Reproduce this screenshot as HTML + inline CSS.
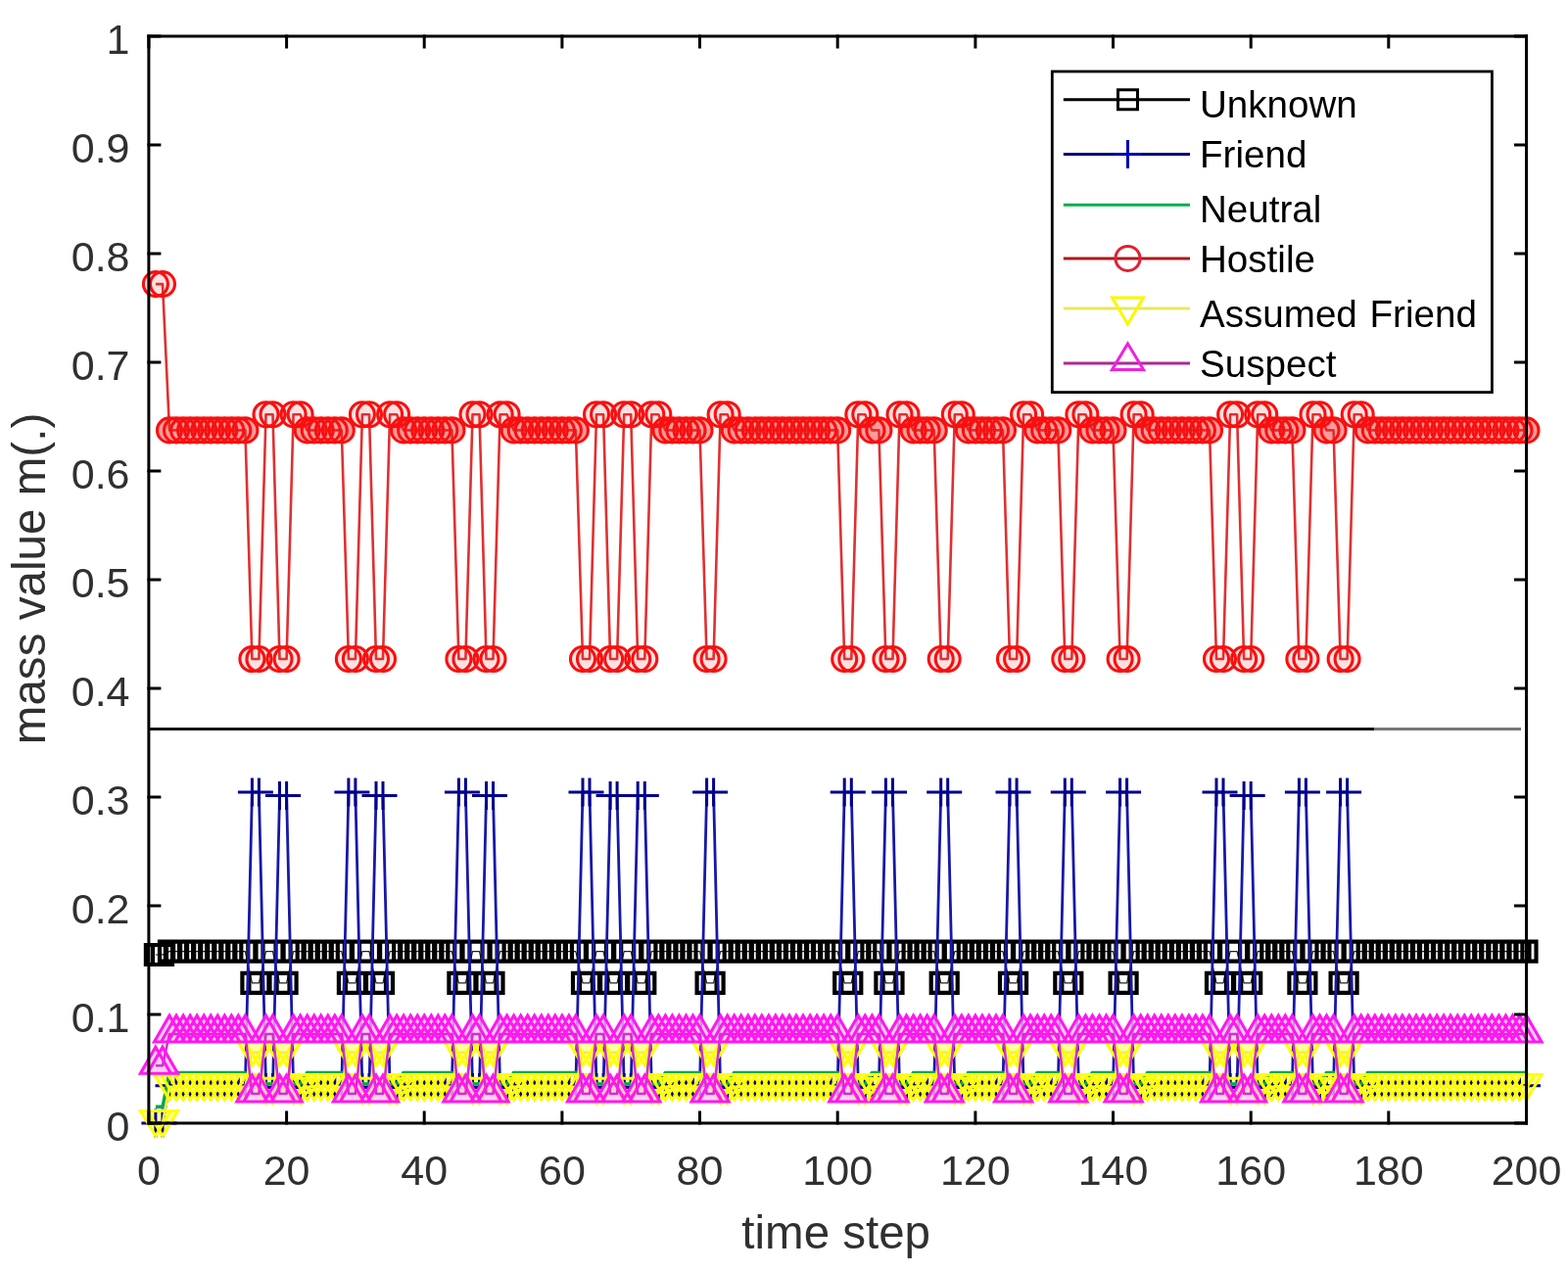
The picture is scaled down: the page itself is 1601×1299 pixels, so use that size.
<!DOCTYPE html>
<html><head><meta charset="utf-8"><title>mass value plot</title>
<style>html,body{margin:0;padding:0;background:#fff;overflow:hidden;}svg{display:block;}text{font-family:"Liberation Sans",Arial,Helvetica,sans-serif;}</style></head><body>
<svg width="1601" height="1299" viewBox="0 0 1601 1299">
<rect x="0" y="0" width="1601" height="1299" fill="#fff"/>
<path fill="#ff9a9a" stroke="none" d="M160.5,439.4a12.5,12.5 0 1,0 25.0,0a12.5,12.5 0 1,0 -25.0,0M167.5,439.4a12.5,12.5 0 1,0 25.0,0a12.5,12.5 0 1,0 -25.0,0M174.6,439.4a12.5,12.5 0 1,0 25.0,0a12.5,12.5 0 1,0 -25.0,0M181.6,439.4a12.5,12.5 0 1,0 25.0,0a12.5,12.5 0 1,0 -25.0,0M188.6,439.4a12.5,12.5 0 1,0 25.0,0a12.5,12.5 0 1,0 -25.0,0M195.7,439.4a12.5,12.5 0 1,0 25.0,0a12.5,12.5 0 1,0 -25.0,0M202.7,439.4a12.5,12.5 0 1,0 25.0,0a12.5,12.5 0 1,0 -25.0,0M209.7,439.4a12.5,12.5 0 1,0 25.0,0a12.5,12.5 0 1,0 -25.0,0M216.8,439.4a12.5,12.5 0 1,0 25.0,0a12.5,12.5 0 1,0 -25.0,0M223.8,439.4a12.5,12.5 0 1,0 25.0,0a12.5,12.5 0 1,0 -25.0,0M230.8,439.4a12.5,12.5 0 1,0 25.0,0a12.5,12.5 0 1,0 -25.0,0M237.9,439.4a12.5,12.5 0 1,0 25.0,0a12.5,12.5 0 1,0 -25.0,0M301.2,439.4a12.5,12.5 0 1,0 25.0,0a12.5,12.5 0 1,0 -25.0,0M308.2,439.4a12.5,12.5 0 1,0 25.0,0a12.5,12.5 0 1,0 -25.0,0M315.2,439.4a12.5,12.5 0 1,0 25.0,0a12.5,12.5 0 1,0 -25.0,0M322.3,439.4a12.5,12.5 0 1,0 25.0,0a12.5,12.5 0 1,0 -25.0,0M329.3,439.4a12.5,12.5 0 1,0 25.0,0a12.5,12.5 0 1,0 -25.0,0M336.3,439.4a12.5,12.5 0 1,0 25.0,0a12.5,12.5 0 1,0 -25.0,0M399.6,439.4a12.5,12.5 0 1,0 25.0,0a12.5,12.5 0 1,0 -25.0,0M406.7,439.4a12.5,12.5 0 1,0 25.0,0a12.5,12.5 0 1,0 -25.0,0M413.7,439.4a12.5,12.5 0 1,0 25.0,0a12.5,12.5 0 1,0 -25.0,0M420.7,439.4a12.5,12.5 0 1,0 25.0,0a12.5,12.5 0 1,0 -25.0,0M427.8,439.4a12.5,12.5 0 1,0 25.0,0a12.5,12.5 0 1,0 -25.0,0M434.8,439.4a12.5,12.5 0 1,0 25.0,0a12.5,12.5 0 1,0 -25.0,0M441.8,439.4a12.5,12.5 0 1,0 25.0,0a12.5,12.5 0 1,0 -25.0,0M448.9,439.4a12.5,12.5 0 1,0 25.0,0a12.5,12.5 0 1,0 -25.0,0M512.1,439.4a12.5,12.5 0 1,0 25.0,0a12.5,12.5 0 1,0 -25.0,0M519.2,439.4a12.5,12.5 0 1,0 25.0,0a12.5,12.5 0 1,0 -25.0,0M526.2,439.4a12.5,12.5 0 1,0 25.0,0a12.5,12.5 0 1,0 -25.0,0M533.2,439.4a12.5,12.5 0 1,0 25.0,0a12.5,12.5 0 1,0 -25.0,0M540.3,439.4a12.5,12.5 0 1,0 25.0,0a12.5,12.5 0 1,0 -25.0,0M547.3,439.4a12.5,12.5 0 1,0 25.0,0a12.5,12.5 0 1,0 -25.0,0M554.3,439.4a12.5,12.5 0 1,0 25.0,0a12.5,12.5 0 1,0 -25.0,0M561.4,439.4a12.5,12.5 0 1,0 25.0,0a12.5,12.5 0 1,0 -25.0,0M568.4,439.4a12.5,12.5 0 1,0 25.0,0a12.5,12.5 0 1,0 -25.0,0M575.4,439.4a12.5,12.5 0 1,0 25.0,0a12.5,12.5 0 1,0 -25.0,0M666.9,439.4a12.5,12.5 0 1,0 25.0,0a12.5,12.5 0 1,0 -25.0,0M673.9,439.4a12.5,12.5 0 1,0 25.0,0a12.5,12.5 0 1,0 -25.0,0M680.9,439.4a12.5,12.5 0 1,0 25.0,0a12.5,12.5 0 1,0 -25.0,0M688.0,439.4a12.5,12.5 0 1,0 25.0,0a12.5,12.5 0 1,0 -25.0,0M695.0,439.4a12.5,12.5 0 1,0 25.0,0a12.5,12.5 0 1,0 -25.0,0M702.0,439.4a12.5,12.5 0 1,0 25.0,0a12.5,12.5 0 1,0 -25.0,0M737.2,439.4a12.5,12.5 0 1,0 25.0,0a12.5,12.5 0 1,0 -25.0,0M744.2,439.4a12.5,12.5 0 1,0 25.0,0a12.5,12.5 0 1,0 -25.0,0M751.3,439.4a12.5,12.5 0 1,0 25.0,0a12.5,12.5 0 1,0 -25.0,0M758.3,439.4a12.5,12.5 0 1,0 25.0,0a12.5,12.5 0 1,0 -25.0,0M765.3,439.4a12.5,12.5 0 1,0 25.0,0a12.5,12.5 0 1,0 -25.0,0M772.4,439.4a12.5,12.5 0 1,0 25.0,0a12.5,12.5 0 1,0 -25.0,0M779.4,439.4a12.5,12.5 0 1,0 25.0,0a12.5,12.5 0 1,0 -25.0,0M786.4,439.4a12.5,12.5 0 1,0 25.0,0a12.5,12.5 0 1,0 -25.0,0M793.5,439.4a12.5,12.5 0 1,0 25.0,0a12.5,12.5 0 1,0 -25.0,0M800.5,439.4a12.5,12.5 0 1,0 25.0,0a12.5,12.5 0 1,0 -25.0,0M807.5,439.4a12.5,12.5 0 1,0 25.0,0a12.5,12.5 0 1,0 -25.0,0M814.6,439.4a12.5,12.5 0 1,0 25.0,0a12.5,12.5 0 1,0 -25.0,0M821.6,439.4a12.5,12.5 0 1,0 25.0,0a12.5,12.5 0 1,0 -25.0,0M828.6,439.4a12.5,12.5 0 1,0 25.0,0a12.5,12.5 0 1,0 -25.0,0M835.7,439.4a12.5,12.5 0 1,0 25.0,0a12.5,12.5 0 1,0 -25.0,0M842.7,439.4a12.5,12.5 0 1,0 25.0,0a12.5,12.5 0 1,0 -25.0,0M877.9,439.4a12.5,12.5 0 1,0 25.0,0a12.5,12.5 0 1,0 -25.0,0M884.9,439.4a12.5,12.5 0 1,0 25.0,0a12.5,12.5 0 1,0 -25.0,0M920.1,439.4a12.5,12.5 0 1,0 25.0,0a12.5,12.5 0 1,0 -25.0,0M927.1,439.4a12.5,12.5 0 1,0 25.0,0a12.5,12.5 0 1,0 -25.0,0M934.1,439.4a12.5,12.5 0 1,0 25.0,0a12.5,12.5 0 1,0 -25.0,0M941.2,439.4a12.5,12.5 0 1,0 25.0,0a12.5,12.5 0 1,0 -25.0,0M976.3,439.4a12.5,12.5 0 1,0 25.0,0a12.5,12.5 0 1,0 -25.0,0M983.4,439.4a12.5,12.5 0 1,0 25.0,0a12.5,12.5 0 1,0 -25.0,0M990.4,439.4a12.5,12.5 0 1,0 25.0,0a12.5,12.5 0 1,0 -25.0,0M997.4,439.4a12.5,12.5 0 1,0 25.0,0a12.5,12.5 0 1,0 -25.0,0M1004.5,439.4a12.5,12.5 0 1,0 25.0,0a12.5,12.5 0 1,0 -25.0,0M1011.5,439.4a12.5,12.5 0 1,0 25.0,0a12.5,12.5 0 1,0 -25.0,0M1046.7,439.4a12.5,12.5 0 1,0 25.0,0a12.5,12.5 0 1,0 -25.0,0M1053.7,439.4a12.5,12.5 0 1,0 25.0,0a12.5,12.5 0 1,0 -25.0,0M1060.7,439.4a12.5,12.5 0 1,0 25.0,0a12.5,12.5 0 1,0 -25.0,0M1067.8,439.4a12.5,12.5 0 1,0 25.0,0a12.5,12.5 0 1,0 -25.0,0M1102.9,439.4a12.5,12.5 0 1,0 25.0,0a12.5,12.5 0 1,0 -25.0,0M1110.0,439.4a12.5,12.5 0 1,0 25.0,0a12.5,12.5 0 1,0 -25.0,0M1117.0,439.4a12.5,12.5 0 1,0 25.0,0a12.5,12.5 0 1,0 -25.0,0M1124.0,439.4a12.5,12.5 0 1,0 25.0,0a12.5,12.5 0 1,0 -25.0,0M1159.2,439.4a12.5,12.5 0 1,0 25.0,0a12.5,12.5 0 1,0 -25.0,0M1166.2,439.4a12.5,12.5 0 1,0 25.0,0a12.5,12.5 0 1,0 -25.0,0M1173.3,439.4a12.5,12.5 0 1,0 25.0,0a12.5,12.5 0 1,0 -25.0,0M1180.3,439.4a12.5,12.5 0 1,0 25.0,0a12.5,12.5 0 1,0 -25.0,0M1187.3,439.4a12.5,12.5 0 1,0 25.0,0a12.5,12.5 0 1,0 -25.0,0M1194.4,439.4a12.5,12.5 0 1,0 25.0,0a12.5,12.5 0 1,0 -25.0,0M1201.4,439.4a12.5,12.5 0 1,0 25.0,0a12.5,12.5 0 1,0 -25.0,0M1208.4,439.4a12.5,12.5 0 1,0 25.0,0a12.5,12.5 0 1,0 -25.0,0M1215.4,439.4a12.5,12.5 0 1,0 25.0,0a12.5,12.5 0 1,0 -25.0,0M1222.5,439.4a12.5,12.5 0 1,0 25.0,0a12.5,12.5 0 1,0 -25.0,0M1285.8,439.4a12.5,12.5 0 1,0 25.0,0a12.5,12.5 0 1,0 -25.0,0M1292.8,439.4a12.5,12.5 0 1,0 25.0,0a12.5,12.5 0 1,0 -25.0,0M1299.8,439.4a12.5,12.5 0 1,0 25.0,0a12.5,12.5 0 1,0 -25.0,0M1306.9,439.4a12.5,12.5 0 1,0 25.0,0a12.5,12.5 0 1,0 -25.0,0M1342.0,439.4a12.5,12.5 0 1,0 25.0,0a12.5,12.5 0 1,0 -25.0,0M1349.1,439.4a12.5,12.5 0 1,0 25.0,0a12.5,12.5 0 1,0 -25.0,0M1384.2,439.4a12.5,12.5 0 1,0 25.0,0a12.5,12.5 0 1,0 -25.0,0M1391.3,439.4a12.5,12.5 0 1,0 25.0,0a12.5,12.5 0 1,0 -25.0,0M1398.3,439.4a12.5,12.5 0 1,0 25.0,0a12.5,12.5 0 1,0 -25.0,0M1405.3,439.4a12.5,12.5 0 1,0 25.0,0a12.5,12.5 0 1,0 -25.0,0M1412.4,439.4a12.5,12.5 0 1,0 25.0,0a12.5,12.5 0 1,0 -25.0,0M1419.4,439.4a12.5,12.5 0 1,0 25.0,0a12.5,12.5 0 1,0 -25.0,0M1426.4,439.4a12.5,12.5 0 1,0 25.0,0a12.5,12.5 0 1,0 -25.0,0M1433.5,439.4a12.5,12.5 0 1,0 25.0,0a12.5,12.5 0 1,0 -25.0,0M1440.5,439.4a12.5,12.5 0 1,0 25.0,0a12.5,12.5 0 1,0 -25.0,0M1447.5,439.4a12.5,12.5 0 1,0 25.0,0a12.5,12.5 0 1,0 -25.0,0M1454.6,439.4a12.5,12.5 0 1,0 25.0,0a12.5,12.5 0 1,0 -25.0,0M1461.6,439.4a12.5,12.5 0 1,0 25.0,0a12.5,12.5 0 1,0 -25.0,0M1468.6,439.4a12.5,12.5 0 1,0 25.0,0a12.5,12.5 0 1,0 -25.0,0M1475.7,439.4a12.5,12.5 0 1,0 25.0,0a12.5,12.5 0 1,0 -25.0,0M1482.7,439.4a12.5,12.5 0 1,0 25.0,0a12.5,12.5 0 1,0 -25.0,0M1489.7,439.4a12.5,12.5 0 1,0 25.0,0a12.5,12.5 0 1,0 -25.0,0M1496.8,439.4a12.5,12.5 0 1,0 25.0,0a12.5,12.5 0 1,0 -25.0,0M1503.8,439.4a12.5,12.5 0 1,0 25.0,0a12.5,12.5 0 1,0 -25.0,0M1510.8,439.4a12.5,12.5 0 1,0 25.0,0a12.5,12.5 0 1,0 -25.0,0M1517.9,439.4a12.5,12.5 0 1,0 25.0,0a12.5,12.5 0 1,0 -25.0,0M1524.9,439.4a12.5,12.5 0 1,0 25.0,0a12.5,12.5 0 1,0 -25.0,0M1531.9,439.4a12.5,12.5 0 1,0 25.0,0a12.5,12.5 0 1,0 -25.0,0M1539.0,439.4a12.5,12.5 0 1,0 25.0,0a12.5,12.5 0 1,0 -25.0,0M1546.0,439.4a12.5,12.5 0 1,0 25.0,0a12.5,12.5 0 1,0 -25.0,0"/>
<path fill="#ffe0e0" stroke="none" d="M146.4,290.1a12.5,12.5 0 1,0 25.0,0a12.5,12.5 0 1,0 -25.0,0M153.5,290.1a12.5,12.5 0 1,0 25.0,0a12.5,12.5 0 1,0 -25.0,0M244.9,673.0a12.5,12.5 0 1,0 25.0,0a12.5,12.5 0 1,0 -25.0,0M251.9,673.0a12.5,12.5 0 1,0 25.0,0a12.5,12.5 0 1,0 -25.0,0M259.0,423.3a12.5,12.5 0 1,0 25.0,0a12.5,12.5 0 1,0 -25.0,0M266.0,423.3a12.5,12.5 0 1,0 25.0,0a12.5,12.5 0 1,0 -25.0,0M273.0,673.0a12.5,12.5 0 1,0 25.0,0a12.5,12.5 0 1,0 -25.0,0M280.1,673.0a12.5,12.5 0 1,0 25.0,0a12.5,12.5 0 1,0 -25.0,0M287.1,423.3a12.5,12.5 0 1,0 25.0,0a12.5,12.5 0 1,0 -25.0,0M294.1,423.3a12.5,12.5 0 1,0 25.0,0a12.5,12.5 0 1,0 -25.0,0M343.4,673.0a12.5,12.5 0 1,0 25.0,0a12.5,12.5 0 1,0 -25.0,0M350.4,673.0a12.5,12.5 0 1,0 25.0,0a12.5,12.5 0 1,0 -25.0,0M357.4,423.3a12.5,12.5 0 1,0 25.0,0a12.5,12.5 0 1,0 -25.0,0M364.5,423.3a12.5,12.5 0 1,0 25.0,0a12.5,12.5 0 1,0 -25.0,0M371.5,673.0a12.5,12.5 0 1,0 25.0,0a12.5,12.5 0 1,0 -25.0,0M378.5,673.0a12.5,12.5 0 1,0 25.0,0a12.5,12.5 0 1,0 -25.0,0M385.6,423.3a12.5,12.5 0 1,0 25.0,0a12.5,12.5 0 1,0 -25.0,0M392.6,423.3a12.5,12.5 0 1,0 25.0,0a12.5,12.5 0 1,0 -25.0,0M455.9,673.0a12.5,12.5 0 1,0 25.0,0a12.5,12.5 0 1,0 -25.0,0M462.9,673.0a12.5,12.5 0 1,0 25.0,0a12.5,12.5 0 1,0 -25.0,0M470.0,423.3a12.5,12.5 0 1,0 25.0,0a12.5,12.5 0 1,0 -25.0,0M477.0,423.3a12.5,12.5 0 1,0 25.0,0a12.5,12.5 0 1,0 -25.0,0M484.0,673.0a12.5,12.5 0 1,0 25.0,0a12.5,12.5 0 1,0 -25.0,0M491.0,673.0a12.5,12.5 0 1,0 25.0,0a12.5,12.5 0 1,0 -25.0,0M498.1,423.3a12.5,12.5 0 1,0 25.0,0a12.5,12.5 0 1,0 -25.0,0M505.1,423.3a12.5,12.5 0 1,0 25.0,0a12.5,12.5 0 1,0 -25.0,0M582.5,673.0a12.5,12.5 0 1,0 25.0,0a12.5,12.5 0 1,0 -25.0,0M589.5,673.0a12.5,12.5 0 1,0 25.0,0a12.5,12.5 0 1,0 -25.0,0M596.5,423.3a12.5,12.5 0 1,0 25.0,0a12.5,12.5 0 1,0 -25.0,0M603.6,423.3a12.5,12.5 0 1,0 25.0,0a12.5,12.5 0 1,0 -25.0,0M610.6,673.0a12.5,12.5 0 1,0 25.0,0a12.5,12.5 0 1,0 -25.0,0M617.6,673.0a12.5,12.5 0 1,0 25.0,0a12.5,12.5 0 1,0 -25.0,0M624.7,423.3a12.5,12.5 0 1,0 25.0,0a12.5,12.5 0 1,0 -25.0,0M631.7,423.3a12.5,12.5 0 1,0 25.0,0a12.5,12.5 0 1,0 -25.0,0M638.7,673.0a12.5,12.5 0 1,0 25.0,0a12.5,12.5 0 1,0 -25.0,0M645.8,673.0a12.5,12.5 0 1,0 25.0,0a12.5,12.5 0 1,0 -25.0,0M652.8,423.3a12.5,12.5 0 1,0 25.0,0a12.5,12.5 0 1,0 -25.0,0M659.8,423.3a12.5,12.5 0 1,0 25.0,0a12.5,12.5 0 1,0 -25.0,0M709.1,673.0a12.5,12.5 0 1,0 25.0,0a12.5,12.5 0 1,0 -25.0,0M716.1,673.0a12.5,12.5 0 1,0 25.0,0a12.5,12.5 0 1,0 -25.0,0M723.1,423.3a12.5,12.5 0 1,0 25.0,0a12.5,12.5 0 1,0 -25.0,0M730.2,423.3a12.5,12.5 0 1,0 25.0,0a12.5,12.5 0 1,0 -25.0,0M849.7,673.0a12.5,12.5 0 1,0 25.0,0a12.5,12.5 0 1,0 -25.0,0M856.8,673.0a12.5,12.5 0 1,0 25.0,0a12.5,12.5 0 1,0 -25.0,0M863.8,423.3a12.5,12.5 0 1,0 25.0,0a12.5,12.5 0 1,0 -25.0,0M870.8,423.3a12.5,12.5 0 1,0 25.0,0a12.5,12.5 0 1,0 -25.0,0M891.9,673.0a12.5,12.5 0 1,0 25.0,0a12.5,12.5 0 1,0 -25.0,0M899.0,673.0a12.5,12.5 0 1,0 25.0,0a12.5,12.5 0 1,0 -25.0,0M906.0,423.3a12.5,12.5 0 1,0 25.0,0a12.5,12.5 0 1,0 -25.0,0M913.0,423.3a12.5,12.5 0 1,0 25.0,0a12.5,12.5 0 1,0 -25.0,0M948.2,673.0a12.5,12.5 0 1,0 25.0,0a12.5,12.5 0 1,0 -25.0,0M955.2,673.0a12.5,12.5 0 1,0 25.0,0a12.5,12.5 0 1,0 -25.0,0M962.3,423.3a12.5,12.5 0 1,0 25.0,0a12.5,12.5 0 1,0 -25.0,0M969.3,423.3a12.5,12.5 0 1,0 25.0,0a12.5,12.5 0 1,0 -25.0,0M1018.5,673.0a12.5,12.5 0 1,0 25.0,0a12.5,12.5 0 1,0 -25.0,0M1025.6,673.0a12.5,12.5 0 1,0 25.0,0a12.5,12.5 0 1,0 -25.0,0M1032.6,423.3a12.5,12.5 0 1,0 25.0,0a12.5,12.5 0 1,0 -25.0,0M1039.6,423.3a12.5,12.5 0 1,0 25.0,0a12.5,12.5 0 1,0 -25.0,0M1074.8,673.0a12.5,12.5 0 1,0 25.0,0a12.5,12.5 0 1,0 -25.0,0M1081.8,673.0a12.5,12.5 0 1,0 25.0,0a12.5,12.5 0 1,0 -25.0,0M1088.9,423.3a12.5,12.5 0 1,0 25.0,0a12.5,12.5 0 1,0 -25.0,0M1095.9,423.3a12.5,12.5 0 1,0 25.0,0a12.5,12.5 0 1,0 -25.0,0M1131.1,673.0a12.5,12.5 0 1,0 25.0,0a12.5,12.5 0 1,0 -25.0,0M1138.1,673.0a12.5,12.5 0 1,0 25.0,0a12.5,12.5 0 1,0 -25.0,0M1145.1,423.3a12.5,12.5 0 1,0 25.0,0a12.5,12.5 0 1,0 -25.0,0M1152.2,423.3a12.5,12.5 0 1,0 25.0,0a12.5,12.5 0 1,0 -25.0,0M1229.5,673.0a12.5,12.5 0 1,0 25.0,0a12.5,12.5 0 1,0 -25.0,0M1236.5,673.0a12.5,12.5 0 1,0 25.0,0a12.5,12.5 0 1,0 -25.0,0M1243.6,423.3a12.5,12.5 0 1,0 25.0,0a12.5,12.5 0 1,0 -25.0,0M1250.6,423.3a12.5,12.5 0 1,0 25.0,0a12.5,12.5 0 1,0 -25.0,0M1257.6,673.0a12.5,12.5 0 1,0 25.0,0a12.5,12.5 0 1,0 -25.0,0M1264.7,673.0a12.5,12.5 0 1,0 25.0,0a12.5,12.5 0 1,0 -25.0,0M1271.7,423.3a12.5,12.5 0 1,0 25.0,0a12.5,12.5 0 1,0 -25.0,0M1278.7,423.3a12.5,12.5 0 1,0 25.0,0a12.5,12.5 0 1,0 -25.0,0M1313.9,673.0a12.5,12.5 0 1,0 25.0,0a12.5,12.5 0 1,0 -25.0,0M1320.9,673.0a12.5,12.5 0 1,0 25.0,0a12.5,12.5 0 1,0 -25.0,0M1328.0,423.3a12.5,12.5 0 1,0 25.0,0a12.5,12.5 0 1,0 -25.0,0M1335.0,423.3a12.5,12.5 0 1,0 25.0,0a12.5,12.5 0 1,0 -25.0,0M1356.1,673.0a12.5,12.5 0 1,0 25.0,0a12.5,12.5 0 1,0 -25.0,0M1363.1,673.0a12.5,12.5 0 1,0 25.0,0a12.5,12.5 0 1,0 -25.0,0M1370.2,423.3a12.5,12.5 0 1,0 25.0,0a12.5,12.5 0 1,0 -25.0,0M1377.2,423.3a12.5,12.5 0 1,0 25.0,0a12.5,12.5 0 1,0 -25.0,0"/>
<path fill="#ffffa0" stroke="none" d="M143.4,1134.5L174.4,1134.5L158.9,1160.0zM150.5,1134.5L181.5,1134.5L166.0,1160.0zM157.5,1097.5L188.5,1097.5L173.0,1123.0zM164.5,1097.5L195.5,1097.5L180.0,1123.0zM171.6,1097.5L202.6,1097.5L187.1,1123.0zM178.6,1097.5L209.6,1097.5L194.1,1123.0zM185.6,1097.5L216.6,1097.5L201.1,1123.0zM192.7,1097.5L223.7,1097.5L208.2,1123.0zM199.7,1097.5L230.7,1097.5L215.2,1123.0zM206.7,1097.5L237.7,1097.5L222.2,1123.0zM213.8,1097.5L244.8,1097.5L229.3,1123.0zM220.8,1097.5L251.8,1097.5L236.3,1123.0zM227.8,1097.5L258.8,1097.5L243.3,1123.0zM234.9,1097.5L265.9,1097.5L250.4,1123.0zM241.9,1062.3L272.9,1062.3L257.4,1087.8zM248.9,1062.3L279.9,1062.3L264.4,1087.8zM256.0,1101.2L287.0,1101.2L271.5,1126.7zM263.0,1101.2L294.0,1101.2L278.5,1126.7zM270.0,1062.3L301.0,1062.3L285.5,1087.8zM277.1,1062.3L308.1,1062.3L292.6,1087.8zM284.1,1101.2L315.1,1101.2L299.6,1126.7zM291.1,1101.2L322.1,1101.2L306.6,1126.7zM298.2,1097.5L329.2,1097.5L313.7,1123.0zM305.2,1097.5L336.2,1097.5L320.7,1123.0zM312.2,1097.5L343.2,1097.5L327.7,1123.0zM319.3,1097.5L350.3,1097.5L334.8,1123.0zM326.3,1097.5L357.3,1097.5L341.8,1123.0zM333.3,1097.5L364.3,1097.5L348.8,1123.0zM340.4,1062.3L371.4,1062.3L355.9,1087.8zM347.4,1062.3L378.4,1062.3L362.9,1087.8zM354.4,1101.2L385.4,1101.2L369.9,1126.7zM361.5,1101.2L392.5,1101.2L377.0,1126.7zM368.5,1062.3L399.5,1062.3L384.0,1087.8zM375.5,1062.3L406.5,1062.3L391.0,1087.8zM382.6,1101.2L413.6,1101.2L398.1,1126.7zM389.6,1101.2L420.6,1101.2L405.1,1126.7zM396.6,1097.5L427.6,1097.5L412.1,1123.0zM403.7,1097.5L434.7,1097.5L419.2,1123.0zM410.7,1097.5L441.7,1097.5L426.2,1123.0zM417.7,1097.5L448.7,1097.5L433.2,1123.0zM424.8,1097.5L455.8,1097.5L440.3,1123.0zM431.8,1097.5L462.8,1097.5L447.3,1123.0zM438.8,1097.5L469.8,1097.5L454.3,1123.0zM445.9,1097.5L476.9,1097.5L461.4,1123.0zM452.9,1062.3L483.9,1062.3L468.4,1087.8zM459.9,1062.3L490.9,1062.3L475.4,1087.8zM467.0,1101.2L498.0,1101.2L482.5,1126.7zM474.0,1101.2L505.0,1101.2L489.5,1126.7zM481.0,1062.3L512.0,1062.3L496.5,1087.8zM488.0,1062.3L519.0,1062.3L503.5,1087.8zM495.1,1101.2L526.1,1101.2L510.6,1126.7zM502.1,1101.2L533.1,1101.2L517.6,1126.7zM509.1,1097.5L540.1,1097.5L524.6,1123.0zM516.2,1097.5L547.2,1097.5L531.7,1123.0zM523.2,1097.5L554.2,1097.5L538.7,1123.0zM530.2,1097.5L561.2,1097.5L545.7,1123.0zM537.3,1097.5L568.3,1097.5L552.8,1123.0zM544.3,1097.5L575.3,1097.5L559.8,1123.0zM551.3,1097.5L582.3,1097.5L566.8,1123.0zM558.4,1097.5L589.4,1097.5L573.9,1123.0zM565.4,1097.5L596.4,1097.5L580.9,1123.0zM572.4,1097.5L603.4,1097.5L587.9,1123.0zM579.5,1062.3L610.5,1062.3L595.0,1087.8zM586.5,1062.3L617.5,1062.3L602.0,1087.8zM593.5,1101.2L624.5,1101.2L609.0,1126.7zM600.6,1101.2L631.6,1101.2L616.1,1126.7zM607.6,1062.3L638.6,1062.3L623.1,1087.8zM614.6,1062.3L645.6,1062.3L630.1,1087.8zM621.7,1101.2L652.7,1101.2L637.2,1126.7zM628.7,1101.2L659.7,1101.2L644.2,1126.7zM635.7,1062.3L666.7,1062.3L651.2,1087.8zM642.8,1062.3L673.8,1062.3L658.3,1087.8zM649.8,1101.2L680.8,1101.2L665.3,1126.7zM656.8,1101.2L687.8,1101.2L672.3,1126.7zM663.9,1097.5L694.9,1097.5L679.4,1123.0zM670.9,1097.5L701.9,1097.5L686.4,1123.0zM677.9,1097.5L708.9,1097.5L693.4,1123.0zM685.0,1097.5L716.0,1097.5L700.5,1123.0zM692.0,1097.5L723.0,1097.5L707.5,1123.0zM699.0,1097.5L730.0,1097.5L714.5,1123.0zM706.1,1062.3L737.1,1062.3L721.6,1087.8zM713.1,1062.3L744.1,1062.3L728.6,1087.8zM720.1,1101.2L751.1,1101.2L735.6,1126.7zM727.2,1101.2L758.2,1101.2L742.7,1126.7zM734.2,1097.5L765.2,1097.5L749.7,1123.0zM741.2,1097.5L772.2,1097.5L756.7,1123.0zM748.3,1097.5L779.3,1097.5L763.8,1123.0zM755.3,1097.5L786.3,1097.5L770.8,1123.0zM762.3,1097.5L793.3,1097.5L777.8,1123.0zM769.4,1097.5L800.4,1097.5L784.9,1123.0zM776.4,1097.5L807.4,1097.5L791.9,1123.0zM783.4,1097.5L814.4,1097.5L798.9,1123.0zM790.5,1097.5L821.5,1097.5L806.0,1123.0zM797.5,1097.5L828.5,1097.5L813.0,1123.0zM804.5,1097.5L835.5,1097.5L820.0,1123.0zM811.6,1097.5L842.6,1097.5L827.1,1123.0zM818.6,1097.5L849.6,1097.5L834.1,1123.0zM825.6,1097.5L856.6,1097.5L841.1,1123.0zM832.7,1097.5L863.7,1097.5L848.2,1123.0zM839.7,1097.5L870.7,1097.5L855.2,1123.0zM846.7,1062.3L877.7,1062.3L862.2,1087.8zM853.8,1062.3L884.8,1062.3L869.3,1087.8zM860.8,1101.2L891.8,1101.2L876.3,1126.7zM867.8,1101.2L898.8,1101.2L883.3,1126.7zM874.9,1097.5L905.9,1097.5L890.4,1123.0zM881.9,1097.5L912.9,1097.5L897.4,1123.0zM888.9,1062.3L919.9,1062.3L904.4,1087.8zM896.0,1062.3L927.0,1062.3L911.5,1087.8zM903.0,1101.2L934.0,1101.2L918.5,1126.7zM910.0,1101.2L941.0,1101.2L925.5,1126.7zM917.1,1097.5L948.1,1097.5L932.6,1123.0zM924.1,1097.5L955.1,1097.5L939.6,1123.0zM931.1,1097.5L962.1,1097.5L946.6,1123.0zM938.2,1097.5L969.2,1097.5L953.7,1123.0zM945.2,1062.3L976.2,1062.3L960.7,1087.8zM952.2,1062.3L983.2,1062.3L967.7,1087.8zM959.3,1101.2L990.3,1101.2L974.8,1126.7zM966.3,1101.2L997.3,1101.2L981.8,1126.7zM973.3,1097.5L1004.3,1097.5L988.8,1123.0zM980.4,1097.5L1011.4,1097.5L995.9,1123.0zM987.4,1097.5L1018.4,1097.5L1002.9,1123.0zM994.4,1097.5L1025.4,1097.5L1009.9,1123.0zM1001.5,1097.5L1032.5,1097.5L1017.0,1123.0zM1008.5,1097.5L1039.5,1097.5L1024.0,1123.0zM1015.5,1062.3L1046.5,1062.3L1031.0,1087.8zM1022.6,1062.3L1053.6,1062.3L1038.1,1087.8zM1029.6,1101.2L1060.6,1101.2L1045.1,1126.7zM1036.6,1101.2L1067.6,1101.2L1052.1,1126.7zM1043.7,1097.5L1074.7,1097.5L1059.2,1123.0zM1050.7,1097.5L1081.7,1097.5L1066.2,1123.0zM1057.7,1097.5L1088.7,1097.5L1073.2,1123.0zM1064.8,1097.5L1095.8,1097.5L1080.3,1123.0zM1071.8,1062.3L1102.8,1062.3L1087.3,1087.8zM1078.8,1062.3L1109.8,1062.3L1094.3,1087.8zM1085.9,1101.2L1116.9,1101.2L1101.4,1126.7zM1092.9,1101.2L1123.9,1101.2L1108.4,1126.7zM1099.9,1097.5L1130.9,1097.5L1115.4,1123.0zM1107.0,1097.5L1138.0,1097.5L1122.5,1123.0zM1114.0,1097.5L1145.0,1097.5L1129.5,1123.0zM1121.0,1097.5L1152.0,1097.5L1136.5,1123.0zM1128.1,1062.3L1159.1,1062.3L1143.6,1087.8zM1135.1,1062.3L1166.1,1062.3L1150.6,1087.8zM1142.1,1101.2L1173.1,1101.2L1157.6,1126.7zM1149.2,1101.2L1180.2,1101.2L1164.7,1126.7zM1156.2,1097.5L1187.2,1097.5L1171.7,1123.0zM1163.2,1097.5L1194.2,1097.5L1178.7,1123.0zM1170.3,1097.5L1201.3,1097.5L1185.8,1123.0zM1177.3,1097.5L1208.3,1097.5L1192.8,1123.0zM1184.3,1097.5L1215.3,1097.5L1199.8,1123.0zM1191.4,1097.5L1222.4,1097.5L1206.9,1123.0zM1198.4,1097.5L1229.4,1097.5L1213.9,1123.0zM1205.4,1097.5L1236.4,1097.5L1220.9,1123.0zM1212.4,1097.5L1243.4,1097.5L1227.9,1123.0zM1219.5,1097.5L1250.5,1097.5L1235.0,1123.0zM1226.5,1062.3L1257.5,1062.3L1242.0,1087.8zM1233.5,1062.3L1264.5,1062.3L1249.0,1087.8zM1240.6,1101.2L1271.6,1101.2L1256.1,1126.7zM1247.6,1101.2L1278.6,1101.2L1263.1,1126.7zM1254.6,1062.3L1285.6,1062.3L1270.1,1087.8zM1261.7,1062.3L1292.7,1062.3L1277.2,1087.8zM1268.7,1101.2L1299.7,1101.2L1284.2,1126.7zM1275.7,1101.2L1306.7,1101.2L1291.2,1126.7zM1282.8,1097.5L1313.8,1097.5L1298.3,1123.0zM1289.8,1097.5L1320.8,1097.5L1305.3,1123.0zM1296.8,1097.5L1327.8,1097.5L1312.3,1123.0zM1303.9,1097.5L1334.9,1097.5L1319.4,1123.0zM1310.9,1062.3L1341.9,1062.3L1326.4,1087.8zM1317.9,1062.3L1348.9,1062.3L1333.4,1087.8zM1325.0,1101.2L1356.0,1101.2L1340.5,1126.7zM1332.0,1101.2L1363.0,1101.2L1347.5,1126.7zM1339.0,1097.5L1370.0,1097.5L1354.5,1123.0zM1346.1,1097.5L1377.1,1097.5L1361.6,1123.0zM1353.1,1062.3L1384.1,1062.3L1368.6,1087.8zM1360.1,1062.3L1391.1,1062.3L1375.6,1087.8zM1367.2,1101.2L1398.2,1101.2L1382.7,1126.7zM1374.2,1101.2L1405.2,1101.2L1389.7,1126.7zM1381.2,1097.5L1412.2,1097.5L1396.7,1123.0zM1388.3,1097.5L1419.3,1097.5L1403.8,1123.0zM1395.3,1097.5L1426.3,1097.5L1410.8,1123.0zM1402.3,1097.5L1433.3,1097.5L1417.8,1123.0zM1409.4,1097.5L1440.4,1097.5L1424.9,1123.0zM1416.4,1097.5L1447.4,1097.5L1431.9,1123.0zM1423.4,1097.5L1454.4,1097.5L1438.9,1123.0zM1430.5,1097.5L1461.5,1097.5L1446.0,1123.0zM1437.5,1097.5L1468.5,1097.5L1453.0,1123.0zM1444.5,1097.5L1475.5,1097.5L1460.0,1123.0zM1451.6,1097.5L1482.6,1097.5L1467.1,1123.0zM1458.6,1097.5L1489.6,1097.5L1474.1,1123.0zM1465.6,1097.5L1496.6,1097.5L1481.1,1123.0zM1472.7,1097.5L1503.7,1097.5L1488.2,1123.0zM1479.7,1097.5L1510.7,1097.5L1495.2,1123.0zM1486.7,1097.5L1517.7,1097.5L1502.2,1123.0zM1493.8,1097.5L1524.8,1097.5L1509.3,1123.0zM1500.8,1097.5L1531.8,1097.5L1516.3,1123.0zM1507.8,1097.5L1538.8,1097.5L1523.3,1123.0zM1514.9,1097.5L1545.9,1097.5L1530.4,1123.0zM1521.9,1097.5L1552.9,1097.5L1537.4,1123.0zM1528.9,1097.5L1559.9,1097.5L1544.4,1123.0zM1536.0,1097.5L1567.0,1097.5L1551.5,1123.0zM1543.0,1097.5L1574.0,1097.5L1558.5,1123.0z"/>
<polyline fill="none" stroke="#222" stroke-width="1.2" stroke-linejoin="round" points="158.9,975.0 166.0,975.0 173.0,971.6 180.0,971.6 187.1,971.6 194.1,971.6 201.1,971.6 208.2,971.6 215.2,971.6 222.2,971.6 229.3,971.6 236.3,971.6 243.3,971.6 250.4,971.6 257.4,1003.8 264.4,1003.8 271.5,971.6 278.5,971.6 285.5,1003.8 292.6,1003.8 299.6,971.6 306.6,971.6 313.7,971.6 320.7,971.6 327.7,971.6 334.8,971.6 341.8,971.6 348.8,971.6 355.9,1003.8 362.9,1003.8 369.9,971.6 377.0,971.6 384.0,1003.8 391.0,1003.8 398.1,971.6 405.1,971.6 412.1,971.6 419.2,971.6 426.2,971.6 433.2,971.6 440.3,971.6 447.3,971.6 454.3,971.6 461.4,971.6 468.4,1003.8 475.4,1003.8 482.5,971.6 489.5,971.6 496.5,1003.8 503.5,1003.8 510.6,971.6 517.6,971.6 524.6,971.6 531.7,971.6 538.7,971.6 545.7,971.6 552.8,971.6 559.8,971.6 566.8,971.6 573.9,971.6 580.9,971.6 587.9,971.6 595.0,1003.8 602.0,1003.8 609.0,971.6 616.1,971.6 623.1,1003.8 630.1,1003.8 637.2,971.6 644.2,971.6 651.2,1003.8 658.3,1003.8 665.3,971.6 672.3,971.6 679.4,971.6 686.4,971.6 693.4,971.6 700.5,971.6 707.5,971.6 714.5,971.6 721.6,1003.8 728.6,1003.8 735.6,971.6 742.7,971.6 749.7,971.6 756.7,971.6 763.8,971.6 770.8,971.6 777.8,971.6 784.9,971.6 791.9,971.6 798.9,971.6 806.0,971.6 813.0,971.6 820.0,971.6 827.1,971.6 834.1,971.6 841.1,971.6 848.2,971.6 855.2,971.6 862.2,1003.8 869.3,1003.8 876.3,971.6 883.3,971.6 890.4,971.6 897.4,971.6 904.4,1003.8 911.5,1003.8 918.5,971.6 925.5,971.6 932.6,971.6 939.6,971.6 946.6,971.6 953.7,971.6 960.7,1003.8 967.7,1003.8 974.8,971.6 981.8,971.6 988.8,971.6 995.9,971.6 1002.9,971.6 1009.9,971.6 1017.0,971.6 1024.0,971.6 1031.0,1003.8 1038.1,1003.8 1045.1,971.6 1052.1,971.6 1059.2,971.6 1066.2,971.6 1073.2,971.6 1080.3,971.6 1087.3,1003.8 1094.3,1003.8 1101.4,971.6 1108.4,971.6 1115.4,971.6 1122.5,971.6 1129.5,971.6 1136.5,971.6 1143.6,1003.8 1150.6,1003.8 1157.6,971.6 1164.7,971.6 1171.7,971.6 1178.7,971.6 1185.8,971.6 1192.8,971.6 1199.8,971.6 1206.9,971.6 1213.9,971.6 1220.9,971.6 1227.9,971.6 1235.0,971.6 1242.0,1003.8 1249.0,1003.8 1256.1,971.6 1263.1,971.6 1270.1,1003.8 1277.2,1003.8 1284.2,971.6 1291.2,971.6 1298.3,971.6 1305.3,971.6 1312.3,971.6 1319.4,971.6 1326.4,1003.8 1333.4,1003.8 1340.5,971.6 1347.5,971.6 1354.5,971.6 1361.6,971.6 1368.6,1003.8 1375.6,1003.8 1382.7,971.6 1389.7,971.6 1396.7,971.6 1403.8,971.6 1410.8,971.6 1417.8,971.6 1424.9,971.6 1431.9,971.6 1438.9,971.6 1446.0,971.6 1453.0,971.6 1460.0,971.6 1467.1,971.6 1474.1,971.6 1481.1,971.6 1488.2,971.6 1495.2,971.6 1502.2,971.6 1509.3,971.6 1516.3,971.6 1523.3,971.6 1530.4,971.6 1537.4,971.6 1544.4,971.6 1551.5,971.6 1558.5,971.6"/>
<path fill="none" stroke="#000" stroke-width="4.2" d="M148.9,965.0h20.0v20.0h-20.0zM156.0,965.0h20.0v20.0h-20.0zM163.0,961.6h20.0v20.0h-20.0zM170.0,961.6h20.0v20.0h-20.0zM177.1,961.6h20.0v20.0h-20.0zM184.1,961.6h20.0v20.0h-20.0zM191.1,961.6h20.0v20.0h-20.0zM198.2,961.6h20.0v20.0h-20.0zM205.2,961.6h20.0v20.0h-20.0zM212.2,961.6h20.0v20.0h-20.0zM219.3,961.6h20.0v20.0h-20.0zM226.3,961.6h20.0v20.0h-20.0zM233.3,961.6h20.0v20.0h-20.0zM240.4,961.6h20.0v20.0h-20.0zM247.4,993.8h20.0v20.0h-20.0zM254.4,993.8h20.0v20.0h-20.0zM261.5,961.6h20.0v20.0h-20.0zM268.5,961.6h20.0v20.0h-20.0zM275.5,993.8h20.0v20.0h-20.0zM282.6,993.8h20.0v20.0h-20.0zM289.6,961.6h20.0v20.0h-20.0zM296.6,961.6h20.0v20.0h-20.0zM303.7,961.6h20.0v20.0h-20.0zM310.7,961.6h20.0v20.0h-20.0zM317.7,961.6h20.0v20.0h-20.0zM324.8,961.6h20.0v20.0h-20.0zM331.8,961.6h20.0v20.0h-20.0zM338.8,961.6h20.0v20.0h-20.0zM345.9,993.8h20.0v20.0h-20.0zM352.9,993.8h20.0v20.0h-20.0zM359.9,961.6h20.0v20.0h-20.0zM367.0,961.6h20.0v20.0h-20.0zM374.0,993.8h20.0v20.0h-20.0zM381.0,993.8h20.0v20.0h-20.0zM388.1,961.6h20.0v20.0h-20.0zM395.1,961.6h20.0v20.0h-20.0zM402.1,961.6h20.0v20.0h-20.0zM409.2,961.6h20.0v20.0h-20.0zM416.2,961.6h20.0v20.0h-20.0zM423.2,961.6h20.0v20.0h-20.0zM430.3,961.6h20.0v20.0h-20.0zM437.3,961.6h20.0v20.0h-20.0zM444.3,961.6h20.0v20.0h-20.0zM451.4,961.6h20.0v20.0h-20.0zM458.4,993.8h20.0v20.0h-20.0zM465.4,993.8h20.0v20.0h-20.0zM472.5,961.6h20.0v20.0h-20.0zM479.5,961.6h20.0v20.0h-20.0zM486.5,993.8h20.0v20.0h-20.0zM493.5,993.8h20.0v20.0h-20.0zM500.6,961.6h20.0v20.0h-20.0zM507.6,961.6h20.0v20.0h-20.0zM514.6,961.6h20.0v20.0h-20.0zM521.7,961.6h20.0v20.0h-20.0zM528.7,961.6h20.0v20.0h-20.0zM535.7,961.6h20.0v20.0h-20.0zM542.8,961.6h20.0v20.0h-20.0zM549.8,961.6h20.0v20.0h-20.0zM556.8,961.6h20.0v20.0h-20.0zM563.9,961.6h20.0v20.0h-20.0zM570.9,961.6h20.0v20.0h-20.0zM577.9,961.6h20.0v20.0h-20.0zM585.0,993.8h20.0v20.0h-20.0zM592.0,993.8h20.0v20.0h-20.0zM599.0,961.6h20.0v20.0h-20.0zM606.1,961.6h20.0v20.0h-20.0zM613.1,993.8h20.0v20.0h-20.0zM620.1,993.8h20.0v20.0h-20.0zM627.2,961.6h20.0v20.0h-20.0zM634.2,961.6h20.0v20.0h-20.0zM641.2,993.8h20.0v20.0h-20.0zM648.3,993.8h20.0v20.0h-20.0zM655.3,961.6h20.0v20.0h-20.0zM662.3,961.6h20.0v20.0h-20.0zM669.4,961.6h20.0v20.0h-20.0zM676.4,961.6h20.0v20.0h-20.0zM683.4,961.6h20.0v20.0h-20.0zM690.5,961.6h20.0v20.0h-20.0zM697.5,961.6h20.0v20.0h-20.0zM704.5,961.6h20.0v20.0h-20.0zM711.6,993.8h20.0v20.0h-20.0zM718.6,993.8h20.0v20.0h-20.0zM725.6,961.6h20.0v20.0h-20.0zM732.7,961.6h20.0v20.0h-20.0zM739.7,961.6h20.0v20.0h-20.0zM746.7,961.6h20.0v20.0h-20.0zM753.8,961.6h20.0v20.0h-20.0zM760.8,961.6h20.0v20.0h-20.0zM767.8,961.6h20.0v20.0h-20.0zM774.9,961.6h20.0v20.0h-20.0zM781.9,961.6h20.0v20.0h-20.0zM788.9,961.6h20.0v20.0h-20.0zM796.0,961.6h20.0v20.0h-20.0zM803.0,961.6h20.0v20.0h-20.0zM810.0,961.6h20.0v20.0h-20.0zM817.1,961.6h20.0v20.0h-20.0zM824.1,961.6h20.0v20.0h-20.0zM831.1,961.6h20.0v20.0h-20.0zM838.2,961.6h20.0v20.0h-20.0zM845.2,961.6h20.0v20.0h-20.0zM852.2,993.8h20.0v20.0h-20.0zM859.3,993.8h20.0v20.0h-20.0zM866.3,961.6h20.0v20.0h-20.0zM873.3,961.6h20.0v20.0h-20.0zM880.4,961.6h20.0v20.0h-20.0zM887.4,961.6h20.0v20.0h-20.0zM894.4,993.8h20.0v20.0h-20.0zM901.5,993.8h20.0v20.0h-20.0zM908.5,961.6h20.0v20.0h-20.0zM915.5,961.6h20.0v20.0h-20.0zM922.6,961.6h20.0v20.0h-20.0zM929.6,961.6h20.0v20.0h-20.0zM936.6,961.6h20.0v20.0h-20.0zM943.7,961.6h20.0v20.0h-20.0zM950.7,993.8h20.0v20.0h-20.0zM957.7,993.8h20.0v20.0h-20.0zM964.8,961.6h20.0v20.0h-20.0zM971.8,961.6h20.0v20.0h-20.0zM978.8,961.6h20.0v20.0h-20.0zM985.9,961.6h20.0v20.0h-20.0zM992.9,961.6h20.0v20.0h-20.0zM999.9,961.6h20.0v20.0h-20.0zM1007.0,961.6h20.0v20.0h-20.0zM1014.0,961.6h20.0v20.0h-20.0zM1021.0,993.8h20.0v20.0h-20.0zM1028.1,993.8h20.0v20.0h-20.0zM1035.1,961.6h20.0v20.0h-20.0zM1042.1,961.6h20.0v20.0h-20.0zM1049.2,961.6h20.0v20.0h-20.0zM1056.2,961.6h20.0v20.0h-20.0zM1063.2,961.6h20.0v20.0h-20.0zM1070.3,961.6h20.0v20.0h-20.0zM1077.3,993.8h20.0v20.0h-20.0zM1084.3,993.8h20.0v20.0h-20.0zM1091.4,961.6h20.0v20.0h-20.0zM1098.4,961.6h20.0v20.0h-20.0zM1105.4,961.6h20.0v20.0h-20.0zM1112.5,961.6h20.0v20.0h-20.0zM1119.5,961.6h20.0v20.0h-20.0zM1126.5,961.6h20.0v20.0h-20.0zM1133.6,993.8h20.0v20.0h-20.0zM1140.6,993.8h20.0v20.0h-20.0zM1147.6,961.6h20.0v20.0h-20.0zM1154.7,961.6h20.0v20.0h-20.0zM1161.7,961.6h20.0v20.0h-20.0zM1168.7,961.6h20.0v20.0h-20.0zM1175.8,961.6h20.0v20.0h-20.0zM1182.8,961.6h20.0v20.0h-20.0zM1189.8,961.6h20.0v20.0h-20.0zM1196.9,961.6h20.0v20.0h-20.0zM1203.9,961.6h20.0v20.0h-20.0zM1210.9,961.6h20.0v20.0h-20.0zM1217.9,961.6h20.0v20.0h-20.0zM1225.0,961.6h20.0v20.0h-20.0zM1232.0,993.8h20.0v20.0h-20.0zM1239.0,993.8h20.0v20.0h-20.0zM1246.1,961.6h20.0v20.0h-20.0zM1253.1,961.6h20.0v20.0h-20.0zM1260.1,993.8h20.0v20.0h-20.0zM1267.2,993.8h20.0v20.0h-20.0zM1274.2,961.6h20.0v20.0h-20.0zM1281.2,961.6h20.0v20.0h-20.0zM1288.3,961.6h20.0v20.0h-20.0zM1295.3,961.6h20.0v20.0h-20.0zM1302.3,961.6h20.0v20.0h-20.0zM1309.4,961.6h20.0v20.0h-20.0zM1316.4,993.8h20.0v20.0h-20.0zM1323.4,993.8h20.0v20.0h-20.0zM1330.5,961.6h20.0v20.0h-20.0zM1337.5,961.6h20.0v20.0h-20.0zM1344.5,961.6h20.0v20.0h-20.0zM1351.6,961.6h20.0v20.0h-20.0zM1358.6,993.8h20.0v20.0h-20.0zM1365.6,993.8h20.0v20.0h-20.0zM1372.7,961.6h20.0v20.0h-20.0zM1379.7,961.6h20.0v20.0h-20.0zM1386.7,961.6h20.0v20.0h-20.0zM1393.8,961.6h20.0v20.0h-20.0zM1400.8,961.6h20.0v20.0h-20.0zM1407.8,961.6h20.0v20.0h-20.0zM1414.9,961.6h20.0v20.0h-20.0zM1421.9,961.6h20.0v20.0h-20.0zM1428.9,961.6h20.0v20.0h-20.0zM1436.0,961.6h20.0v20.0h-20.0zM1443.0,961.6h20.0v20.0h-20.0zM1450.0,961.6h20.0v20.0h-20.0zM1457.1,961.6h20.0v20.0h-20.0zM1464.1,961.6h20.0v20.0h-20.0zM1471.1,961.6h20.0v20.0h-20.0zM1478.2,961.6h20.0v20.0h-20.0zM1485.2,961.6h20.0v20.0h-20.0zM1492.2,961.6h20.0v20.0h-20.0zM1499.3,961.6h20.0v20.0h-20.0zM1506.3,961.6h20.0v20.0h-20.0zM1513.3,961.6h20.0v20.0h-20.0zM1520.4,961.6h20.0v20.0h-20.0zM1527.4,961.6h20.0v20.0h-20.0zM1534.4,961.6h20.0v20.0h-20.0zM1541.5,961.6h20.0v20.0h-20.0zM1548.5,961.6h20.0v20.0h-20.0z"/>
<polyline fill="none" stroke="#1818a8" stroke-width="2.8" stroke-linejoin="round" points="158.9,1147.0 166.0,1147.0 173.0,1108.7 180.0,1108.7 187.1,1108.7 194.1,1108.7 201.1,1108.7 208.2,1108.7 215.2,1108.7 222.2,1108.7 229.3,1108.7 236.3,1108.7 243.3,1108.7 250.4,1108.7 257.4,809.0 264.4,809.0 271.5,1110.4 278.5,1110.4 285.5,812.6 292.6,812.6 299.6,1110.4 306.6,1110.4 313.7,1108.7 320.7,1108.7 327.7,1108.7 334.8,1108.7 341.8,1108.7 348.8,1108.7 355.9,809.0 362.9,809.0 369.9,1110.4 377.0,1110.4 384.0,812.6 391.0,812.6 398.1,1110.4 405.1,1110.4 412.1,1108.7 419.2,1108.7 426.2,1108.7 433.2,1108.7 440.3,1108.7 447.3,1108.7 454.3,1108.7 461.4,1108.7 468.4,809.0 475.4,809.0 482.5,1110.4 489.5,1110.4 496.5,812.6 503.5,812.6 510.6,1110.4 517.6,1110.4 524.6,1108.7 531.7,1108.7 538.7,1108.7 545.7,1108.7 552.8,1108.7 559.8,1108.7 566.8,1108.7 573.9,1108.7 580.9,1108.7 587.9,1108.7 595.0,809.0 602.0,809.0 609.0,1110.4 616.1,1110.4 623.1,812.6 630.1,812.6 637.2,1110.4 644.2,1110.4 651.2,812.6 658.3,812.6 665.3,1110.4 672.3,1110.4 679.4,1108.7 686.4,1108.7 693.4,1108.7 700.5,1108.7 707.5,1108.7 714.5,1108.7 721.6,809.0 728.6,809.0 735.6,1110.4 742.7,1110.4 749.7,1108.7 756.7,1108.7 763.8,1108.7 770.8,1108.7 777.8,1108.7 784.9,1108.7 791.9,1108.7 798.9,1108.7 806.0,1108.7 813.0,1108.7 820.0,1108.7 827.1,1108.7 834.1,1108.7 841.1,1108.7 848.2,1108.7 855.2,1108.7 862.2,809.0 869.3,809.0 876.3,1110.4 883.3,1110.4 890.4,1108.7 897.4,1108.7 904.4,809.0 911.5,809.0 918.5,1110.4 925.5,1110.4 932.6,1108.7 939.6,1108.7 946.6,1108.7 953.7,1108.7 960.7,809.0 967.7,809.0 974.8,1110.4 981.8,1110.4 988.8,1108.7 995.9,1108.7 1002.9,1108.7 1009.9,1108.7 1017.0,1108.7 1024.0,1108.7 1031.0,809.0 1038.1,809.0 1045.1,1110.4 1052.1,1110.4 1059.2,1108.7 1066.2,1108.7 1073.2,1108.7 1080.3,1108.7 1087.3,809.0 1094.3,809.0 1101.4,1110.4 1108.4,1110.4 1115.4,1108.7 1122.5,1108.7 1129.5,1108.7 1136.5,1108.7 1143.6,809.0 1150.6,809.0 1157.6,1110.4 1164.7,1110.4 1171.7,1108.7 1178.7,1108.7 1185.8,1108.7 1192.8,1108.7 1199.8,1108.7 1206.9,1108.7 1213.9,1108.7 1220.9,1108.7 1227.9,1108.7 1235.0,1108.7 1242.0,809.0 1249.0,809.0 1256.1,1110.4 1263.1,1110.4 1270.1,812.6 1277.2,812.6 1284.2,1110.4 1291.2,1110.4 1298.3,1108.7 1305.3,1108.7 1312.3,1108.7 1319.4,1108.7 1326.4,809.0 1333.4,809.0 1340.5,1110.4 1347.5,1110.4 1354.5,1108.7 1361.6,1108.7 1368.6,809.0 1375.6,809.0 1382.7,1110.4 1389.7,1110.4 1396.7,1108.7 1403.8,1108.7 1410.8,1108.7 1417.8,1108.7 1424.9,1108.7 1431.9,1108.7 1438.9,1108.7 1446.0,1108.7 1453.0,1108.7 1460.0,1108.7 1467.1,1108.7 1474.1,1108.7 1481.1,1108.7 1488.2,1108.7 1495.2,1108.7 1502.2,1108.7 1509.3,1108.7 1516.3,1108.7 1523.3,1108.7 1530.4,1108.7 1537.4,1108.7 1544.4,1108.7 1551.5,1108.7 1558.5,1108.7"/>
<path fill="none" stroke="#00008c" stroke-width="3.0" d="M144.4,1147.0h29.0M158.9,1132.5v29.0M151.5,1147.0h29.0M166.0,1132.5v29.0M158.5,1108.7h29.0M173.0,1094.2v29.0M165.5,1108.7h29.0M180.0,1094.2v29.0M172.6,1108.7h29.0M187.1,1094.2v29.0M179.6,1108.7h29.0M194.1,1094.2v29.0M186.6,1108.7h29.0M201.1,1094.2v29.0M193.7,1108.7h29.0M208.2,1094.2v29.0M200.7,1108.7h29.0M215.2,1094.2v29.0M207.7,1108.7h29.0M222.2,1094.2v29.0M214.8,1108.7h29.0M229.3,1094.2v29.0M221.8,1108.7h29.0M236.3,1094.2v29.0M228.8,1108.7h29.0M243.3,1094.2v29.0M235.9,1108.7h29.0M250.4,1094.2v29.0M242.9,809.0h29.0M257.4,794.5v29.0M249.9,809.0h29.0M264.4,794.5v29.0M257.0,1110.4h29.0M271.5,1095.9v29.0M264.0,1110.4h29.0M278.5,1095.9v29.0M271.0,812.6h29.0M285.5,798.1v29.0M278.1,812.6h29.0M292.6,798.1v29.0M285.1,1110.4h29.0M299.6,1095.9v29.0M292.1,1110.4h29.0M306.6,1095.9v29.0M299.2,1108.7h29.0M313.7,1094.2v29.0M306.2,1108.7h29.0M320.7,1094.2v29.0M313.2,1108.7h29.0M327.7,1094.2v29.0M320.3,1108.7h29.0M334.8,1094.2v29.0M327.3,1108.7h29.0M341.8,1094.2v29.0M334.3,1108.7h29.0M348.8,1094.2v29.0M341.4,809.0h29.0M355.9,794.5v29.0M348.4,809.0h29.0M362.9,794.5v29.0M355.4,1110.4h29.0M369.9,1095.9v29.0M362.5,1110.4h29.0M377.0,1095.9v29.0M369.5,812.6h29.0M384.0,798.1v29.0M376.5,812.6h29.0M391.0,798.1v29.0M383.6,1110.4h29.0M398.1,1095.9v29.0M390.6,1110.4h29.0M405.1,1095.9v29.0M397.6,1108.7h29.0M412.1,1094.2v29.0M404.7,1108.7h29.0M419.2,1094.2v29.0M411.7,1108.7h29.0M426.2,1094.2v29.0M418.7,1108.7h29.0M433.2,1094.2v29.0M425.8,1108.7h29.0M440.3,1094.2v29.0M432.8,1108.7h29.0M447.3,1094.2v29.0M439.8,1108.7h29.0M454.3,1094.2v29.0M446.9,1108.7h29.0M461.4,1094.2v29.0M453.9,809.0h29.0M468.4,794.5v29.0M460.9,809.0h29.0M475.4,794.5v29.0M468.0,1110.4h29.0M482.5,1095.9v29.0M475.0,1110.4h29.0M489.5,1095.9v29.0M482.0,812.6h29.0M496.5,798.1v29.0M489.0,812.6h29.0M503.5,798.1v29.0M496.1,1110.4h29.0M510.6,1095.9v29.0M503.1,1110.4h29.0M517.6,1095.9v29.0M510.1,1108.7h29.0M524.6,1094.2v29.0M517.2,1108.7h29.0M531.7,1094.2v29.0M524.2,1108.7h29.0M538.7,1094.2v29.0M531.2,1108.7h29.0M545.7,1094.2v29.0M538.3,1108.7h29.0M552.8,1094.2v29.0M545.3,1108.7h29.0M559.8,1094.2v29.0M552.3,1108.7h29.0M566.8,1094.2v29.0M559.4,1108.7h29.0M573.9,1094.2v29.0M566.4,1108.7h29.0M580.9,1094.2v29.0M573.4,1108.7h29.0M587.9,1094.2v29.0M580.5,809.0h29.0M595.0,794.5v29.0M587.5,809.0h29.0M602.0,794.5v29.0M594.5,1110.4h29.0M609.0,1095.9v29.0M601.6,1110.4h29.0M616.1,1095.9v29.0M608.6,812.6h29.0M623.1,798.1v29.0M615.6,812.6h29.0M630.1,798.1v29.0M622.7,1110.4h29.0M637.2,1095.9v29.0M629.7,1110.4h29.0M644.2,1095.9v29.0M636.7,812.6h29.0M651.2,798.1v29.0M643.8,812.6h29.0M658.3,798.1v29.0M650.8,1110.4h29.0M665.3,1095.9v29.0M657.8,1110.4h29.0M672.3,1095.9v29.0M664.9,1108.7h29.0M679.4,1094.2v29.0M671.9,1108.7h29.0M686.4,1094.2v29.0M678.9,1108.7h29.0M693.4,1094.2v29.0M686.0,1108.7h29.0M700.5,1094.2v29.0M693.0,1108.7h29.0M707.5,1094.2v29.0M700.0,1108.7h29.0M714.5,1094.2v29.0M707.1,809.0h29.0M721.6,794.5v29.0M714.1,809.0h29.0M728.6,794.5v29.0M721.1,1110.4h29.0M735.6,1095.9v29.0M728.2,1110.4h29.0M742.7,1095.9v29.0M735.2,1108.7h29.0M749.7,1094.2v29.0M742.2,1108.7h29.0M756.7,1094.2v29.0M749.3,1108.7h29.0M763.8,1094.2v29.0M756.3,1108.7h29.0M770.8,1094.2v29.0M763.3,1108.7h29.0M777.8,1094.2v29.0M770.4,1108.7h29.0M784.9,1094.2v29.0M777.4,1108.7h29.0M791.9,1094.2v29.0M784.4,1108.7h29.0M798.9,1094.2v29.0M791.5,1108.7h29.0M806.0,1094.2v29.0M798.5,1108.7h29.0M813.0,1094.2v29.0M805.5,1108.7h29.0M820.0,1094.2v29.0M812.6,1108.7h29.0M827.1,1094.2v29.0M819.6,1108.7h29.0M834.1,1094.2v29.0M826.6,1108.7h29.0M841.1,1094.2v29.0M833.7,1108.7h29.0M848.2,1094.2v29.0M840.7,1108.7h29.0M855.2,1094.2v29.0M847.7,809.0h29.0M862.2,794.5v29.0M854.8,809.0h29.0M869.3,794.5v29.0M861.8,1110.4h29.0M876.3,1095.9v29.0M868.8,1110.4h29.0M883.3,1095.9v29.0M875.9,1108.7h29.0M890.4,1094.2v29.0M882.9,1108.7h29.0M897.4,1094.2v29.0M889.9,809.0h29.0M904.4,794.5v29.0M897.0,809.0h29.0M911.5,794.5v29.0M904.0,1110.4h29.0M918.5,1095.9v29.0M911.0,1110.4h29.0M925.5,1095.9v29.0M918.1,1108.7h29.0M932.6,1094.2v29.0M925.1,1108.7h29.0M939.6,1094.2v29.0M932.1,1108.7h29.0M946.6,1094.2v29.0M939.2,1108.7h29.0M953.7,1094.2v29.0M946.2,809.0h29.0M960.7,794.5v29.0M953.2,809.0h29.0M967.7,794.5v29.0M960.3,1110.4h29.0M974.8,1095.9v29.0M967.3,1110.4h29.0M981.8,1095.9v29.0M974.3,1108.7h29.0M988.8,1094.2v29.0M981.4,1108.7h29.0M995.9,1094.2v29.0M988.4,1108.7h29.0M1002.9,1094.2v29.0M995.4,1108.7h29.0M1009.9,1094.2v29.0M1002.5,1108.7h29.0M1017.0,1094.2v29.0M1009.5,1108.7h29.0M1024.0,1094.2v29.0M1016.5,809.0h29.0M1031.0,794.5v29.0M1023.6,809.0h29.0M1038.1,794.5v29.0M1030.6,1110.4h29.0M1045.1,1095.9v29.0M1037.6,1110.4h29.0M1052.1,1095.9v29.0M1044.7,1108.7h29.0M1059.2,1094.2v29.0M1051.7,1108.7h29.0M1066.2,1094.2v29.0M1058.7,1108.7h29.0M1073.2,1094.2v29.0M1065.8,1108.7h29.0M1080.3,1094.2v29.0M1072.8,809.0h29.0M1087.3,794.5v29.0M1079.8,809.0h29.0M1094.3,794.5v29.0M1086.9,1110.4h29.0M1101.4,1095.9v29.0M1093.9,1110.4h29.0M1108.4,1095.9v29.0M1100.9,1108.7h29.0M1115.4,1094.2v29.0M1108.0,1108.7h29.0M1122.5,1094.2v29.0M1115.0,1108.7h29.0M1129.5,1094.2v29.0M1122.0,1108.7h29.0M1136.5,1094.2v29.0M1129.1,809.0h29.0M1143.6,794.5v29.0M1136.1,809.0h29.0M1150.6,794.5v29.0M1143.1,1110.4h29.0M1157.6,1095.9v29.0M1150.2,1110.4h29.0M1164.7,1095.9v29.0M1157.2,1108.7h29.0M1171.7,1094.2v29.0M1164.2,1108.7h29.0M1178.7,1094.2v29.0M1171.3,1108.7h29.0M1185.8,1094.2v29.0M1178.3,1108.7h29.0M1192.8,1094.2v29.0M1185.3,1108.7h29.0M1199.8,1094.2v29.0M1192.4,1108.7h29.0M1206.9,1094.2v29.0M1199.4,1108.7h29.0M1213.9,1094.2v29.0M1206.4,1108.7h29.0M1220.9,1094.2v29.0M1213.4,1108.7h29.0M1227.9,1094.2v29.0M1220.5,1108.7h29.0M1235.0,1094.2v29.0M1227.5,809.0h29.0M1242.0,794.5v29.0M1234.5,809.0h29.0M1249.0,794.5v29.0M1241.6,1110.4h29.0M1256.1,1095.9v29.0M1248.6,1110.4h29.0M1263.1,1095.9v29.0M1255.6,812.6h29.0M1270.1,798.1v29.0M1262.7,812.6h29.0M1277.2,798.1v29.0M1269.7,1110.4h29.0M1284.2,1095.9v29.0M1276.7,1110.4h29.0M1291.2,1095.9v29.0M1283.8,1108.7h29.0M1298.3,1094.2v29.0M1290.8,1108.7h29.0M1305.3,1094.2v29.0M1297.8,1108.7h29.0M1312.3,1094.2v29.0M1304.9,1108.7h29.0M1319.4,1094.2v29.0M1311.9,809.0h29.0M1326.4,794.5v29.0M1318.9,809.0h29.0M1333.4,794.5v29.0M1326.0,1110.4h29.0M1340.5,1095.9v29.0M1333.0,1110.4h29.0M1347.5,1095.9v29.0M1340.0,1108.7h29.0M1354.5,1094.2v29.0M1347.1,1108.7h29.0M1361.6,1094.2v29.0M1354.1,809.0h29.0M1368.6,794.5v29.0M1361.1,809.0h29.0M1375.6,794.5v29.0M1368.2,1110.4h29.0M1382.7,1095.9v29.0M1375.2,1110.4h29.0M1389.7,1095.9v29.0M1382.2,1108.7h29.0M1396.7,1094.2v29.0M1389.3,1108.7h29.0M1403.8,1094.2v29.0M1396.3,1108.7h29.0M1410.8,1094.2v29.0M1403.3,1108.7h29.0M1417.8,1094.2v29.0M1410.4,1108.7h29.0M1424.9,1094.2v29.0M1417.4,1108.7h29.0M1431.9,1094.2v29.0M1424.4,1108.7h29.0M1438.9,1094.2v29.0M1431.5,1108.7h29.0M1446.0,1094.2v29.0M1438.5,1108.7h29.0M1453.0,1094.2v29.0M1445.5,1108.7h29.0M1460.0,1094.2v29.0M1452.6,1108.7h29.0M1467.1,1094.2v29.0M1459.6,1108.7h29.0M1474.1,1094.2v29.0M1466.6,1108.7h29.0M1481.1,1094.2v29.0M1473.7,1108.7h29.0M1488.2,1094.2v29.0M1480.7,1108.7h29.0M1495.2,1094.2v29.0M1487.7,1108.7h29.0M1502.2,1094.2v29.0M1494.8,1108.7h29.0M1509.3,1094.2v29.0M1501.8,1108.7h29.0M1516.3,1094.2v29.0M1508.8,1108.7h29.0M1523.3,1094.2v29.0M1515.9,1108.7h29.0M1530.4,1094.2v29.0M1522.9,1108.7h29.0M1537.4,1094.2v29.0M1529.9,1108.7h29.0M1544.4,1094.2v29.0M1537.0,1108.7h29.0M1551.5,1094.2v29.0M1544.0,1108.7h29.0M1558.5,1094.2v29.0"/>
<polyline fill="none" stroke="#00a848" stroke-width="3.4" stroke-linejoin="round" points="158.9,1130.3 166.0,1130.3 173.0,1095.4 180.0,1095.4 187.1,1095.4 194.1,1095.4 201.1,1095.4 208.2,1095.4 215.2,1095.4 222.2,1095.4 229.3,1095.4 236.3,1095.4 243.3,1095.4 250.4,1095.4 257.4,1110.4 264.4,1110.4 271.5,1107.0 278.5,1107.0 285.5,1110.4 292.6,1110.4 299.6,1107.0 306.6,1107.0 313.7,1095.4 320.7,1095.4 327.7,1095.4 334.8,1095.4 341.8,1095.4 348.8,1095.4 355.9,1110.4 362.9,1110.4 369.9,1107.0 377.0,1107.0 384.0,1110.4 391.0,1110.4 398.1,1107.0 405.1,1107.0 412.1,1095.4 419.2,1095.4 426.2,1095.4 433.2,1095.4 440.3,1095.4 447.3,1095.4 454.3,1095.4 461.4,1095.4 468.4,1110.4 475.4,1110.4 482.5,1107.0 489.5,1107.0 496.5,1110.4 503.5,1110.4 510.6,1107.0 517.6,1107.0 524.6,1095.4 531.7,1095.4 538.7,1095.4 545.7,1095.4 552.8,1095.4 559.8,1095.4 566.8,1095.4 573.9,1095.4 580.9,1095.4 587.9,1095.4 595.0,1110.4 602.0,1110.4 609.0,1107.0 616.1,1107.0 623.1,1110.4 630.1,1110.4 637.2,1107.0 644.2,1107.0 651.2,1110.4 658.3,1110.4 665.3,1107.0 672.3,1107.0 679.4,1095.4 686.4,1095.4 693.4,1095.4 700.5,1095.4 707.5,1095.4 714.5,1095.4 721.6,1110.4 728.6,1110.4 735.6,1107.0 742.7,1107.0 749.7,1095.4 756.7,1095.4 763.8,1095.4 770.8,1095.4 777.8,1095.4 784.9,1095.4 791.9,1095.4 798.9,1095.4 806.0,1095.4 813.0,1095.4 820.0,1095.4 827.1,1095.4 834.1,1095.4 841.1,1095.4 848.2,1095.4 855.2,1095.4 862.2,1110.4 869.3,1110.4 876.3,1107.0 883.3,1107.0 890.4,1095.4 897.4,1095.4 904.4,1110.4 911.5,1110.4 918.5,1107.0 925.5,1107.0 932.6,1095.4 939.6,1095.4 946.6,1095.4 953.7,1095.4 960.7,1110.4 967.7,1110.4 974.8,1107.0 981.8,1107.0 988.8,1095.4 995.9,1095.4 1002.9,1095.4 1009.9,1095.4 1017.0,1095.4 1024.0,1095.4 1031.0,1110.4 1038.1,1110.4 1045.1,1107.0 1052.1,1107.0 1059.2,1095.4 1066.2,1095.4 1073.2,1095.4 1080.3,1095.4 1087.3,1110.4 1094.3,1110.4 1101.4,1107.0 1108.4,1107.0 1115.4,1095.4 1122.5,1095.4 1129.5,1095.4 1136.5,1095.4 1143.6,1110.4 1150.6,1110.4 1157.6,1107.0 1164.7,1107.0 1171.7,1095.4 1178.7,1095.4 1185.8,1095.4 1192.8,1095.4 1199.8,1095.4 1206.9,1095.4 1213.9,1095.4 1220.9,1095.4 1227.9,1095.4 1235.0,1095.4 1242.0,1110.4 1249.0,1110.4 1256.1,1107.0 1263.1,1107.0 1270.1,1110.4 1277.2,1110.4 1284.2,1107.0 1291.2,1107.0 1298.3,1095.4 1305.3,1095.4 1312.3,1095.4 1319.4,1095.4 1326.4,1110.4 1333.4,1110.4 1340.5,1107.0 1347.5,1107.0 1354.5,1095.4 1361.6,1095.4 1368.6,1110.4 1375.6,1110.4 1382.7,1107.0 1389.7,1107.0 1396.7,1095.4 1403.8,1095.4 1410.8,1095.4 1417.8,1095.4 1424.9,1095.4 1431.9,1095.4 1438.9,1095.4 1446.0,1095.4 1453.0,1095.4 1460.0,1095.4 1467.1,1095.4 1474.1,1095.4 1481.1,1095.4 1488.2,1095.4 1495.2,1095.4 1502.2,1095.4 1509.3,1095.4 1516.3,1095.4 1523.3,1095.4 1530.4,1095.4 1537.4,1095.4 1544.4,1095.4 1551.5,1095.4 1558.5,1095.4"/>
<polyline fill="none" stroke="#e03030" stroke-width="2.6" stroke-linejoin="round" points="158.9,290.1 166.0,290.1 173.0,439.4 180.0,439.4 187.1,439.4 194.1,439.4 201.1,439.4 208.2,439.4 215.2,439.4 222.2,439.4 229.3,439.4 236.3,439.4 243.3,439.4 250.4,439.4 257.4,673.0 264.4,673.0 271.5,423.3 278.5,423.3 285.5,673.0 292.6,673.0 299.6,423.3 306.6,423.3 313.7,439.4 320.7,439.4 327.7,439.4 334.8,439.4 341.8,439.4 348.8,439.4 355.9,673.0 362.9,673.0 369.9,423.3 377.0,423.3 384.0,673.0 391.0,673.0 398.1,423.3 405.1,423.3 412.1,439.4 419.2,439.4 426.2,439.4 433.2,439.4 440.3,439.4 447.3,439.4 454.3,439.4 461.4,439.4 468.4,673.0 475.4,673.0 482.5,423.3 489.5,423.3 496.5,673.0 503.5,673.0 510.6,423.3 517.6,423.3 524.6,439.4 531.7,439.4 538.7,439.4 545.7,439.4 552.8,439.4 559.8,439.4 566.8,439.4 573.9,439.4 580.9,439.4 587.9,439.4 595.0,673.0 602.0,673.0 609.0,423.3 616.1,423.3 623.1,673.0 630.1,673.0 637.2,423.3 644.2,423.3 651.2,673.0 658.3,673.0 665.3,423.3 672.3,423.3 679.4,439.4 686.4,439.4 693.4,439.4 700.5,439.4 707.5,439.4 714.5,439.4 721.6,673.0 728.6,673.0 735.6,423.3 742.7,423.3 749.7,439.4 756.7,439.4 763.8,439.4 770.8,439.4 777.8,439.4 784.9,439.4 791.9,439.4 798.9,439.4 806.0,439.4 813.0,439.4 820.0,439.4 827.1,439.4 834.1,439.4 841.1,439.4 848.2,439.4 855.2,439.4 862.2,673.0 869.3,673.0 876.3,423.3 883.3,423.3 890.4,439.4 897.4,439.4 904.4,673.0 911.5,673.0 918.5,423.3 925.5,423.3 932.6,439.4 939.6,439.4 946.6,439.4 953.7,439.4 960.7,673.0 967.7,673.0 974.8,423.3 981.8,423.3 988.8,439.4 995.9,439.4 1002.9,439.4 1009.9,439.4 1017.0,439.4 1024.0,439.4 1031.0,673.0 1038.1,673.0 1045.1,423.3 1052.1,423.3 1059.2,439.4 1066.2,439.4 1073.2,439.4 1080.3,439.4 1087.3,673.0 1094.3,673.0 1101.4,423.3 1108.4,423.3 1115.4,439.4 1122.5,439.4 1129.5,439.4 1136.5,439.4 1143.6,673.0 1150.6,673.0 1157.6,423.3 1164.7,423.3 1171.7,439.4 1178.7,439.4 1185.8,439.4 1192.8,439.4 1199.8,439.4 1206.9,439.4 1213.9,439.4 1220.9,439.4 1227.9,439.4 1235.0,439.4 1242.0,673.0 1249.0,673.0 1256.1,423.3 1263.1,423.3 1270.1,673.0 1277.2,673.0 1284.2,423.3 1291.2,423.3 1298.3,439.4 1305.3,439.4 1312.3,439.4 1319.4,439.4 1326.4,673.0 1333.4,673.0 1340.5,423.3 1347.5,423.3 1354.5,439.4 1361.6,439.4 1368.6,673.0 1375.6,673.0 1382.7,423.3 1389.7,423.3 1396.7,439.4 1403.8,439.4 1410.8,439.4 1417.8,439.4 1424.9,439.4 1431.9,439.4 1438.9,439.4 1446.0,439.4 1453.0,439.4 1460.0,439.4 1467.1,439.4 1474.1,439.4 1481.1,439.4 1488.2,439.4 1495.2,439.4 1502.2,439.4 1509.3,439.4 1516.3,439.4 1523.3,439.4 1530.4,439.4 1537.4,439.4 1544.4,439.4 1551.5,439.4 1558.5,439.4"/>
<path fill="none" stroke="#f81010" stroke-width="3.1" d="M146.4,290.1a12.5,12.5 0 1,0 25.0,0a12.5,12.5 0 1,0 -25.0,0M153.5,290.1a12.5,12.5 0 1,0 25.0,0a12.5,12.5 0 1,0 -25.0,0M160.5,439.4a12.5,12.5 0 1,0 25.0,0a12.5,12.5 0 1,0 -25.0,0M167.5,439.4a12.5,12.5 0 1,0 25.0,0a12.5,12.5 0 1,0 -25.0,0M174.6,439.4a12.5,12.5 0 1,0 25.0,0a12.5,12.5 0 1,0 -25.0,0M181.6,439.4a12.5,12.5 0 1,0 25.0,0a12.5,12.5 0 1,0 -25.0,0M188.6,439.4a12.5,12.5 0 1,0 25.0,0a12.5,12.5 0 1,0 -25.0,0M195.7,439.4a12.5,12.5 0 1,0 25.0,0a12.5,12.5 0 1,0 -25.0,0M202.7,439.4a12.5,12.5 0 1,0 25.0,0a12.5,12.5 0 1,0 -25.0,0M209.7,439.4a12.5,12.5 0 1,0 25.0,0a12.5,12.5 0 1,0 -25.0,0M216.8,439.4a12.5,12.5 0 1,0 25.0,0a12.5,12.5 0 1,0 -25.0,0M223.8,439.4a12.5,12.5 0 1,0 25.0,0a12.5,12.5 0 1,0 -25.0,0M230.8,439.4a12.5,12.5 0 1,0 25.0,0a12.5,12.5 0 1,0 -25.0,0M237.9,439.4a12.5,12.5 0 1,0 25.0,0a12.5,12.5 0 1,0 -25.0,0M244.9,673.0a12.5,12.5 0 1,0 25.0,0a12.5,12.5 0 1,0 -25.0,0M251.9,673.0a12.5,12.5 0 1,0 25.0,0a12.5,12.5 0 1,0 -25.0,0M259.0,423.3a12.5,12.5 0 1,0 25.0,0a12.5,12.5 0 1,0 -25.0,0M266.0,423.3a12.5,12.5 0 1,0 25.0,0a12.5,12.5 0 1,0 -25.0,0M273.0,673.0a12.5,12.5 0 1,0 25.0,0a12.5,12.5 0 1,0 -25.0,0M280.1,673.0a12.5,12.5 0 1,0 25.0,0a12.5,12.5 0 1,0 -25.0,0M287.1,423.3a12.5,12.5 0 1,0 25.0,0a12.5,12.5 0 1,0 -25.0,0M294.1,423.3a12.5,12.5 0 1,0 25.0,0a12.5,12.5 0 1,0 -25.0,0M301.2,439.4a12.5,12.5 0 1,0 25.0,0a12.5,12.5 0 1,0 -25.0,0M308.2,439.4a12.5,12.5 0 1,0 25.0,0a12.5,12.5 0 1,0 -25.0,0M315.2,439.4a12.5,12.5 0 1,0 25.0,0a12.5,12.5 0 1,0 -25.0,0M322.3,439.4a12.5,12.5 0 1,0 25.0,0a12.5,12.5 0 1,0 -25.0,0M329.3,439.4a12.5,12.5 0 1,0 25.0,0a12.5,12.5 0 1,0 -25.0,0M336.3,439.4a12.5,12.5 0 1,0 25.0,0a12.5,12.5 0 1,0 -25.0,0M343.4,673.0a12.5,12.5 0 1,0 25.0,0a12.5,12.5 0 1,0 -25.0,0M350.4,673.0a12.5,12.5 0 1,0 25.0,0a12.5,12.5 0 1,0 -25.0,0M357.4,423.3a12.5,12.5 0 1,0 25.0,0a12.5,12.5 0 1,0 -25.0,0M364.5,423.3a12.5,12.5 0 1,0 25.0,0a12.5,12.5 0 1,0 -25.0,0M371.5,673.0a12.5,12.5 0 1,0 25.0,0a12.5,12.5 0 1,0 -25.0,0M378.5,673.0a12.5,12.5 0 1,0 25.0,0a12.5,12.5 0 1,0 -25.0,0M385.6,423.3a12.5,12.5 0 1,0 25.0,0a12.5,12.5 0 1,0 -25.0,0M392.6,423.3a12.5,12.5 0 1,0 25.0,0a12.5,12.5 0 1,0 -25.0,0M399.6,439.4a12.5,12.5 0 1,0 25.0,0a12.5,12.5 0 1,0 -25.0,0M406.7,439.4a12.5,12.5 0 1,0 25.0,0a12.5,12.5 0 1,0 -25.0,0M413.7,439.4a12.5,12.5 0 1,0 25.0,0a12.5,12.5 0 1,0 -25.0,0M420.7,439.4a12.5,12.5 0 1,0 25.0,0a12.5,12.5 0 1,0 -25.0,0M427.8,439.4a12.5,12.5 0 1,0 25.0,0a12.5,12.5 0 1,0 -25.0,0M434.8,439.4a12.5,12.5 0 1,0 25.0,0a12.5,12.5 0 1,0 -25.0,0M441.8,439.4a12.5,12.5 0 1,0 25.0,0a12.5,12.5 0 1,0 -25.0,0M448.9,439.4a12.5,12.5 0 1,0 25.0,0a12.5,12.5 0 1,0 -25.0,0M455.9,673.0a12.5,12.5 0 1,0 25.0,0a12.5,12.5 0 1,0 -25.0,0M462.9,673.0a12.5,12.5 0 1,0 25.0,0a12.5,12.5 0 1,0 -25.0,0M470.0,423.3a12.5,12.5 0 1,0 25.0,0a12.5,12.5 0 1,0 -25.0,0M477.0,423.3a12.5,12.5 0 1,0 25.0,0a12.5,12.5 0 1,0 -25.0,0M484.0,673.0a12.5,12.5 0 1,0 25.0,0a12.5,12.5 0 1,0 -25.0,0M491.0,673.0a12.5,12.5 0 1,0 25.0,0a12.5,12.5 0 1,0 -25.0,0M498.1,423.3a12.5,12.5 0 1,0 25.0,0a12.5,12.5 0 1,0 -25.0,0M505.1,423.3a12.5,12.5 0 1,0 25.0,0a12.5,12.5 0 1,0 -25.0,0M512.1,439.4a12.5,12.5 0 1,0 25.0,0a12.5,12.5 0 1,0 -25.0,0M519.2,439.4a12.5,12.5 0 1,0 25.0,0a12.5,12.5 0 1,0 -25.0,0M526.2,439.4a12.5,12.5 0 1,0 25.0,0a12.5,12.5 0 1,0 -25.0,0M533.2,439.4a12.5,12.5 0 1,0 25.0,0a12.5,12.5 0 1,0 -25.0,0M540.3,439.4a12.5,12.5 0 1,0 25.0,0a12.5,12.5 0 1,0 -25.0,0M547.3,439.4a12.5,12.5 0 1,0 25.0,0a12.5,12.5 0 1,0 -25.0,0M554.3,439.4a12.5,12.5 0 1,0 25.0,0a12.5,12.5 0 1,0 -25.0,0M561.4,439.4a12.5,12.5 0 1,0 25.0,0a12.5,12.5 0 1,0 -25.0,0M568.4,439.4a12.5,12.5 0 1,0 25.0,0a12.5,12.5 0 1,0 -25.0,0M575.4,439.4a12.5,12.5 0 1,0 25.0,0a12.5,12.5 0 1,0 -25.0,0M582.5,673.0a12.5,12.5 0 1,0 25.0,0a12.5,12.5 0 1,0 -25.0,0M589.5,673.0a12.5,12.5 0 1,0 25.0,0a12.5,12.5 0 1,0 -25.0,0M596.5,423.3a12.5,12.5 0 1,0 25.0,0a12.5,12.5 0 1,0 -25.0,0M603.6,423.3a12.5,12.5 0 1,0 25.0,0a12.5,12.5 0 1,0 -25.0,0M610.6,673.0a12.5,12.5 0 1,0 25.0,0a12.5,12.5 0 1,0 -25.0,0M617.6,673.0a12.5,12.5 0 1,0 25.0,0a12.5,12.5 0 1,0 -25.0,0M624.7,423.3a12.5,12.5 0 1,0 25.0,0a12.5,12.5 0 1,0 -25.0,0M631.7,423.3a12.5,12.5 0 1,0 25.0,0a12.5,12.5 0 1,0 -25.0,0M638.7,673.0a12.5,12.5 0 1,0 25.0,0a12.5,12.5 0 1,0 -25.0,0M645.8,673.0a12.5,12.5 0 1,0 25.0,0a12.5,12.5 0 1,0 -25.0,0M652.8,423.3a12.5,12.5 0 1,0 25.0,0a12.5,12.5 0 1,0 -25.0,0M659.8,423.3a12.5,12.5 0 1,0 25.0,0a12.5,12.5 0 1,0 -25.0,0M666.9,439.4a12.5,12.5 0 1,0 25.0,0a12.5,12.5 0 1,0 -25.0,0M673.9,439.4a12.5,12.5 0 1,0 25.0,0a12.5,12.5 0 1,0 -25.0,0M680.9,439.4a12.5,12.5 0 1,0 25.0,0a12.5,12.5 0 1,0 -25.0,0M688.0,439.4a12.5,12.5 0 1,0 25.0,0a12.5,12.5 0 1,0 -25.0,0M695.0,439.4a12.5,12.5 0 1,0 25.0,0a12.5,12.5 0 1,0 -25.0,0M702.0,439.4a12.5,12.5 0 1,0 25.0,0a12.5,12.5 0 1,0 -25.0,0M709.1,673.0a12.5,12.5 0 1,0 25.0,0a12.5,12.5 0 1,0 -25.0,0M716.1,673.0a12.5,12.5 0 1,0 25.0,0a12.5,12.5 0 1,0 -25.0,0M723.1,423.3a12.5,12.5 0 1,0 25.0,0a12.5,12.5 0 1,0 -25.0,0M730.2,423.3a12.5,12.5 0 1,0 25.0,0a12.5,12.5 0 1,0 -25.0,0M737.2,439.4a12.5,12.5 0 1,0 25.0,0a12.5,12.5 0 1,0 -25.0,0M744.2,439.4a12.5,12.5 0 1,0 25.0,0a12.5,12.5 0 1,0 -25.0,0M751.3,439.4a12.5,12.5 0 1,0 25.0,0a12.5,12.5 0 1,0 -25.0,0M758.3,439.4a12.5,12.5 0 1,0 25.0,0a12.5,12.5 0 1,0 -25.0,0M765.3,439.4a12.5,12.5 0 1,0 25.0,0a12.5,12.5 0 1,0 -25.0,0M772.4,439.4a12.5,12.5 0 1,0 25.0,0a12.5,12.5 0 1,0 -25.0,0M779.4,439.4a12.5,12.5 0 1,0 25.0,0a12.5,12.5 0 1,0 -25.0,0M786.4,439.4a12.5,12.5 0 1,0 25.0,0a12.5,12.5 0 1,0 -25.0,0M793.5,439.4a12.5,12.5 0 1,0 25.0,0a12.5,12.5 0 1,0 -25.0,0M800.5,439.4a12.5,12.5 0 1,0 25.0,0a12.5,12.5 0 1,0 -25.0,0M807.5,439.4a12.5,12.5 0 1,0 25.0,0a12.5,12.5 0 1,0 -25.0,0M814.6,439.4a12.5,12.5 0 1,0 25.0,0a12.5,12.5 0 1,0 -25.0,0M821.6,439.4a12.5,12.5 0 1,0 25.0,0a12.5,12.5 0 1,0 -25.0,0M828.6,439.4a12.5,12.5 0 1,0 25.0,0a12.5,12.5 0 1,0 -25.0,0M835.7,439.4a12.5,12.5 0 1,0 25.0,0a12.5,12.5 0 1,0 -25.0,0M842.7,439.4a12.5,12.5 0 1,0 25.0,0a12.5,12.5 0 1,0 -25.0,0M849.7,673.0a12.5,12.5 0 1,0 25.0,0a12.5,12.5 0 1,0 -25.0,0M856.8,673.0a12.5,12.5 0 1,0 25.0,0a12.5,12.5 0 1,0 -25.0,0M863.8,423.3a12.5,12.5 0 1,0 25.0,0a12.5,12.5 0 1,0 -25.0,0M870.8,423.3a12.5,12.5 0 1,0 25.0,0a12.5,12.5 0 1,0 -25.0,0M877.9,439.4a12.5,12.5 0 1,0 25.0,0a12.5,12.5 0 1,0 -25.0,0M884.9,439.4a12.5,12.5 0 1,0 25.0,0a12.5,12.5 0 1,0 -25.0,0M891.9,673.0a12.5,12.5 0 1,0 25.0,0a12.5,12.5 0 1,0 -25.0,0M899.0,673.0a12.5,12.5 0 1,0 25.0,0a12.5,12.5 0 1,0 -25.0,0M906.0,423.3a12.5,12.5 0 1,0 25.0,0a12.5,12.5 0 1,0 -25.0,0M913.0,423.3a12.5,12.5 0 1,0 25.0,0a12.5,12.5 0 1,0 -25.0,0M920.1,439.4a12.5,12.5 0 1,0 25.0,0a12.5,12.5 0 1,0 -25.0,0M927.1,439.4a12.5,12.5 0 1,0 25.0,0a12.5,12.5 0 1,0 -25.0,0M934.1,439.4a12.5,12.5 0 1,0 25.0,0a12.5,12.5 0 1,0 -25.0,0M941.2,439.4a12.5,12.5 0 1,0 25.0,0a12.5,12.5 0 1,0 -25.0,0M948.2,673.0a12.5,12.5 0 1,0 25.0,0a12.5,12.5 0 1,0 -25.0,0M955.2,673.0a12.5,12.5 0 1,0 25.0,0a12.5,12.5 0 1,0 -25.0,0M962.3,423.3a12.5,12.5 0 1,0 25.0,0a12.5,12.5 0 1,0 -25.0,0M969.3,423.3a12.5,12.5 0 1,0 25.0,0a12.5,12.5 0 1,0 -25.0,0M976.3,439.4a12.5,12.5 0 1,0 25.0,0a12.5,12.5 0 1,0 -25.0,0M983.4,439.4a12.5,12.5 0 1,0 25.0,0a12.5,12.5 0 1,0 -25.0,0M990.4,439.4a12.5,12.5 0 1,0 25.0,0a12.5,12.5 0 1,0 -25.0,0M997.4,439.4a12.5,12.5 0 1,0 25.0,0a12.5,12.5 0 1,0 -25.0,0M1004.5,439.4a12.5,12.5 0 1,0 25.0,0a12.5,12.5 0 1,0 -25.0,0M1011.5,439.4a12.5,12.5 0 1,0 25.0,0a12.5,12.5 0 1,0 -25.0,0M1018.5,673.0a12.5,12.5 0 1,0 25.0,0a12.5,12.5 0 1,0 -25.0,0M1025.6,673.0a12.5,12.5 0 1,0 25.0,0a12.5,12.5 0 1,0 -25.0,0M1032.6,423.3a12.5,12.5 0 1,0 25.0,0a12.5,12.5 0 1,0 -25.0,0M1039.6,423.3a12.5,12.5 0 1,0 25.0,0a12.5,12.5 0 1,0 -25.0,0M1046.7,439.4a12.5,12.5 0 1,0 25.0,0a12.5,12.5 0 1,0 -25.0,0M1053.7,439.4a12.5,12.5 0 1,0 25.0,0a12.5,12.5 0 1,0 -25.0,0M1060.7,439.4a12.5,12.5 0 1,0 25.0,0a12.5,12.5 0 1,0 -25.0,0M1067.8,439.4a12.5,12.5 0 1,0 25.0,0a12.5,12.5 0 1,0 -25.0,0M1074.8,673.0a12.5,12.5 0 1,0 25.0,0a12.5,12.5 0 1,0 -25.0,0M1081.8,673.0a12.5,12.5 0 1,0 25.0,0a12.5,12.5 0 1,0 -25.0,0M1088.9,423.3a12.5,12.5 0 1,0 25.0,0a12.5,12.5 0 1,0 -25.0,0M1095.9,423.3a12.5,12.5 0 1,0 25.0,0a12.5,12.5 0 1,0 -25.0,0M1102.9,439.4a12.5,12.5 0 1,0 25.0,0a12.5,12.5 0 1,0 -25.0,0M1110.0,439.4a12.5,12.5 0 1,0 25.0,0a12.5,12.5 0 1,0 -25.0,0M1117.0,439.4a12.5,12.5 0 1,0 25.0,0a12.5,12.5 0 1,0 -25.0,0M1124.0,439.4a12.5,12.5 0 1,0 25.0,0a12.5,12.5 0 1,0 -25.0,0M1131.1,673.0a12.5,12.5 0 1,0 25.0,0a12.5,12.5 0 1,0 -25.0,0M1138.1,673.0a12.5,12.5 0 1,0 25.0,0a12.5,12.5 0 1,0 -25.0,0M1145.1,423.3a12.5,12.5 0 1,0 25.0,0a12.5,12.5 0 1,0 -25.0,0M1152.2,423.3a12.5,12.5 0 1,0 25.0,0a12.5,12.5 0 1,0 -25.0,0M1159.2,439.4a12.5,12.5 0 1,0 25.0,0a12.5,12.5 0 1,0 -25.0,0M1166.2,439.4a12.5,12.5 0 1,0 25.0,0a12.5,12.5 0 1,0 -25.0,0M1173.3,439.4a12.5,12.5 0 1,0 25.0,0a12.5,12.5 0 1,0 -25.0,0M1180.3,439.4a12.5,12.5 0 1,0 25.0,0a12.5,12.5 0 1,0 -25.0,0M1187.3,439.4a12.5,12.5 0 1,0 25.0,0a12.5,12.5 0 1,0 -25.0,0M1194.4,439.4a12.5,12.5 0 1,0 25.0,0a12.5,12.5 0 1,0 -25.0,0M1201.4,439.4a12.5,12.5 0 1,0 25.0,0a12.5,12.5 0 1,0 -25.0,0M1208.4,439.4a12.5,12.5 0 1,0 25.0,0a12.5,12.5 0 1,0 -25.0,0M1215.4,439.4a12.5,12.5 0 1,0 25.0,0a12.5,12.5 0 1,0 -25.0,0M1222.5,439.4a12.5,12.5 0 1,0 25.0,0a12.5,12.5 0 1,0 -25.0,0M1229.5,673.0a12.5,12.5 0 1,0 25.0,0a12.5,12.5 0 1,0 -25.0,0M1236.5,673.0a12.5,12.5 0 1,0 25.0,0a12.5,12.5 0 1,0 -25.0,0M1243.6,423.3a12.5,12.5 0 1,0 25.0,0a12.5,12.5 0 1,0 -25.0,0M1250.6,423.3a12.5,12.5 0 1,0 25.0,0a12.5,12.5 0 1,0 -25.0,0M1257.6,673.0a12.5,12.5 0 1,0 25.0,0a12.5,12.5 0 1,0 -25.0,0M1264.7,673.0a12.5,12.5 0 1,0 25.0,0a12.5,12.5 0 1,0 -25.0,0M1271.7,423.3a12.5,12.5 0 1,0 25.0,0a12.5,12.5 0 1,0 -25.0,0M1278.7,423.3a12.5,12.5 0 1,0 25.0,0a12.5,12.5 0 1,0 -25.0,0M1285.8,439.4a12.5,12.5 0 1,0 25.0,0a12.5,12.5 0 1,0 -25.0,0M1292.8,439.4a12.5,12.5 0 1,0 25.0,0a12.5,12.5 0 1,0 -25.0,0M1299.8,439.4a12.5,12.5 0 1,0 25.0,0a12.5,12.5 0 1,0 -25.0,0M1306.9,439.4a12.5,12.5 0 1,0 25.0,0a12.5,12.5 0 1,0 -25.0,0M1313.9,673.0a12.5,12.5 0 1,0 25.0,0a12.5,12.5 0 1,0 -25.0,0M1320.9,673.0a12.5,12.5 0 1,0 25.0,0a12.5,12.5 0 1,0 -25.0,0M1328.0,423.3a12.5,12.5 0 1,0 25.0,0a12.5,12.5 0 1,0 -25.0,0M1335.0,423.3a12.5,12.5 0 1,0 25.0,0a12.5,12.5 0 1,0 -25.0,0M1342.0,439.4a12.5,12.5 0 1,0 25.0,0a12.5,12.5 0 1,0 -25.0,0M1349.1,439.4a12.5,12.5 0 1,0 25.0,0a12.5,12.5 0 1,0 -25.0,0M1356.1,673.0a12.5,12.5 0 1,0 25.0,0a12.5,12.5 0 1,0 -25.0,0M1363.1,673.0a12.5,12.5 0 1,0 25.0,0a12.5,12.5 0 1,0 -25.0,0M1370.2,423.3a12.5,12.5 0 1,0 25.0,0a12.5,12.5 0 1,0 -25.0,0M1377.2,423.3a12.5,12.5 0 1,0 25.0,0a12.5,12.5 0 1,0 -25.0,0M1384.2,439.4a12.5,12.5 0 1,0 25.0,0a12.5,12.5 0 1,0 -25.0,0M1391.3,439.4a12.5,12.5 0 1,0 25.0,0a12.5,12.5 0 1,0 -25.0,0M1398.3,439.4a12.5,12.5 0 1,0 25.0,0a12.5,12.5 0 1,0 -25.0,0M1405.3,439.4a12.5,12.5 0 1,0 25.0,0a12.5,12.5 0 1,0 -25.0,0M1412.4,439.4a12.5,12.5 0 1,0 25.0,0a12.5,12.5 0 1,0 -25.0,0M1419.4,439.4a12.5,12.5 0 1,0 25.0,0a12.5,12.5 0 1,0 -25.0,0M1426.4,439.4a12.5,12.5 0 1,0 25.0,0a12.5,12.5 0 1,0 -25.0,0M1433.5,439.4a12.5,12.5 0 1,0 25.0,0a12.5,12.5 0 1,0 -25.0,0M1440.5,439.4a12.5,12.5 0 1,0 25.0,0a12.5,12.5 0 1,0 -25.0,0M1447.5,439.4a12.5,12.5 0 1,0 25.0,0a12.5,12.5 0 1,0 -25.0,0M1454.6,439.4a12.5,12.5 0 1,0 25.0,0a12.5,12.5 0 1,0 -25.0,0M1461.6,439.4a12.5,12.5 0 1,0 25.0,0a12.5,12.5 0 1,0 -25.0,0M1468.6,439.4a12.5,12.5 0 1,0 25.0,0a12.5,12.5 0 1,0 -25.0,0M1475.7,439.4a12.5,12.5 0 1,0 25.0,0a12.5,12.5 0 1,0 -25.0,0M1482.7,439.4a12.5,12.5 0 1,0 25.0,0a12.5,12.5 0 1,0 -25.0,0M1489.7,439.4a12.5,12.5 0 1,0 25.0,0a12.5,12.5 0 1,0 -25.0,0M1496.8,439.4a12.5,12.5 0 1,0 25.0,0a12.5,12.5 0 1,0 -25.0,0M1503.8,439.4a12.5,12.5 0 1,0 25.0,0a12.5,12.5 0 1,0 -25.0,0M1510.8,439.4a12.5,12.5 0 1,0 25.0,0a12.5,12.5 0 1,0 -25.0,0M1517.9,439.4a12.5,12.5 0 1,0 25.0,0a12.5,12.5 0 1,0 -25.0,0M1524.9,439.4a12.5,12.5 0 1,0 25.0,0a12.5,12.5 0 1,0 -25.0,0M1531.9,439.4a12.5,12.5 0 1,0 25.0,0a12.5,12.5 0 1,0 -25.0,0M1539.0,439.4a12.5,12.5 0 1,0 25.0,0a12.5,12.5 0 1,0 -25.0,0M1546.0,439.4a12.5,12.5 0 1,0 25.0,0a12.5,12.5 0 1,0 -25.0,0"/>
<polyline fill="none" stroke="#eeee50" stroke-width="2.8" stroke-linejoin="round" points="158.9,1147.0 166.0,1147.0 173.0,1110.0 180.0,1110.0 187.1,1110.0 194.1,1110.0 201.1,1110.0 208.2,1110.0 215.2,1110.0 222.2,1110.0 229.3,1110.0 236.3,1110.0 243.3,1110.0 250.4,1110.0 257.4,1074.8 264.4,1074.8 271.5,1113.7 278.5,1113.7 285.5,1074.8 292.6,1074.8 299.6,1113.7 306.6,1113.7 313.7,1110.0 320.7,1110.0 327.7,1110.0 334.8,1110.0 341.8,1110.0 348.8,1110.0 355.9,1074.8 362.9,1074.8 369.9,1113.7 377.0,1113.7 384.0,1074.8 391.0,1074.8 398.1,1113.7 405.1,1113.7 412.1,1110.0 419.2,1110.0 426.2,1110.0 433.2,1110.0 440.3,1110.0 447.3,1110.0 454.3,1110.0 461.4,1110.0 468.4,1074.8 475.4,1074.8 482.5,1113.7 489.5,1113.7 496.5,1074.8 503.5,1074.8 510.6,1113.7 517.6,1113.7 524.6,1110.0 531.7,1110.0 538.7,1110.0 545.7,1110.0 552.8,1110.0 559.8,1110.0 566.8,1110.0 573.9,1110.0 580.9,1110.0 587.9,1110.0 595.0,1074.8 602.0,1074.8 609.0,1113.7 616.1,1113.7 623.1,1074.8 630.1,1074.8 637.2,1113.7 644.2,1113.7 651.2,1074.8 658.3,1074.8 665.3,1113.7 672.3,1113.7 679.4,1110.0 686.4,1110.0 693.4,1110.0 700.5,1110.0 707.5,1110.0 714.5,1110.0 721.6,1074.8 728.6,1074.8 735.6,1113.7 742.7,1113.7 749.7,1110.0 756.7,1110.0 763.8,1110.0 770.8,1110.0 777.8,1110.0 784.9,1110.0 791.9,1110.0 798.9,1110.0 806.0,1110.0 813.0,1110.0 820.0,1110.0 827.1,1110.0 834.1,1110.0 841.1,1110.0 848.2,1110.0 855.2,1110.0 862.2,1074.8 869.3,1074.8 876.3,1113.7 883.3,1113.7 890.4,1110.0 897.4,1110.0 904.4,1074.8 911.5,1074.8 918.5,1113.7 925.5,1113.7 932.6,1110.0 939.6,1110.0 946.6,1110.0 953.7,1110.0 960.7,1074.8 967.7,1074.8 974.8,1113.7 981.8,1113.7 988.8,1110.0 995.9,1110.0 1002.9,1110.0 1009.9,1110.0 1017.0,1110.0 1024.0,1110.0 1031.0,1074.8 1038.1,1074.8 1045.1,1113.7 1052.1,1113.7 1059.2,1110.0 1066.2,1110.0 1073.2,1110.0 1080.3,1110.0 1087.3,1074.8 1094.3,1074.8 1101.4,1113.7 1108.4,1113.7 1115.4,1110.0 1122.5,1110.0 1129.5,1110.0 1136.5,1110.0 1143.6,1074.8 1150.6,1074.8 1157.6,1113.7 1164.7,1113.7 1171.7,1110.0 1178.7,1110.0 1185.8,1110.0 1192.8,1110.0 1199.8,1110.0 1206.9,1110.0 1213.9,1110.0 1220.9,1110.0 1227.9,1110.0 1235.0,1110.0 1242.0,1074.8 1249.0,1074.8 1256.1,1113.7 1263.1,1113.7 1270.1,1074.8 1277.2,1074.8 1284.2,1113.7 1291.2,1113.7 1298.3,1110.0 1305.3,1110.0 1312.3,1110.0 1319.4,1110.0 1326.4,1074.8 1333.4,1074.8 1340.5,1113.7 1347.5,1113.7 1354.5,1110.0 1361.6,1110.0 1368.6,1074.8 1375.6,1074.8 1382.7,1113.7 1389.7,1113.7 1396.7,1110.0 1403.8,1110.0 1410.8,1110.0 1417.8,1110.0 1424.9,1110.0 1431.9,1110.0 1438.9,1110.0 1446.0,1110.0 1453.0,1110.0 1460.0,1110.0 1467.1,1110.0 1474.1,1110.0 1481.1,1110.0 1488.2,1110.0 1495.2,1110.0 1502.2,1110.0 1509.3,1110.0 1516.3,1110.0 1523.3,1110.0 1530.4,1110.0 1537.4,1110.0 1544.4,1110.0 1551.5,1110.0 1558.5,1110.0"/>
<path fill="none" stroke="#ffff00" stroke-width="3.0" d="M143.4,1134.5L174.4,1134.5L158.9,1160.0zM150.5,1134.5L181.5,1134.5L166.0,1160.0zM157.5,1097.5L188.5,1097.5L173.0,1123.0zM164.5,1097.5L195.5,1097.5L180.0,1123.0zM171.6,1097.5L202.6,1097.5L187.1,1123.0zM178.6,1097.5L209.6,1097.5L194.1,1123.0zM185.6,1097.5L216.6,1097.5L201.1,1123.0zM192.7,1097.5L223.7,1097.5L208.2,1123.0zM199.7,1097.5L230.7,1097.5L215.2,1123.0zM206.7,1097.5L237.7,1097.5L222.2,1123.0zM213.8,1097.5L244.8,1097.5L229.3,1123.0zM220.8,1097.5L251.8,1097.5L236.3,1123.0zM227.8,1097.5L258.8,1097.5L243.3,1123.0zM234.9,1097.5L265.9,1097.5L250.4,1123.0zM241.9,1062.3L272.9,1062.3L257.4,1087.8zM248.9,1062.3L279.9,1062.3L264.4,1087.8zM256.0,1101.2L287.0,1101.2L271.5,1126.7zM263.0,1101.2L294.0,1101.2L278.5,1126.7zM270.0,1062.3L301.0,1062.3L285.5,1087.8zM277.1,1062.3L308.1,1062.3L292.6,1087.8zM284.1,1101.2L315.1,1101.2L299.6,1126.7zM291.1,1101.2L322.1,1101.2L306.6,1126.7zM298.2,1097.5L329.2,1097.5L313.7,1123.0zM305.2,1097.5L336.2,1097.5L320.7,1123.0zM312.2,1097.5L343.2,1097.5L327.7,1123.0zM319.3,1097.5L350.3,1097.5L334.8,1123.0zM326.3,1097.5L357.3,1097.5L341.8,1123.0zM333.3,1097.5L364.3,1097.5L348.8,1123.0zM340.4,1062.3L371.4,1062.3L355.9,1087.8zM347.4,1062.3L378.4,1062.3L362.9,1087.8zM354.4,1101.2L385.4,1101.2L369.9,1126.7zM361.5,1101.2L392.5,1101.2L377.0,1126.7zM368.5,1062.3L399.5,1062.3L384.0,1087.8zM375.5,1062.3L406.5,1062.3L391.0,1087.8zM382.6,1101.2L413.6,1101.2L398.1,1126.7zM389.6,1101.2L420.6,1101.2L405.1,1126.7zM396.6,1097.5L427.6,1097.5L412.1,1123.0zM403.7,1097.5L434.7,1097.5L419.2,1123.0zM410.7,1097.5L441.7,1097.5L426.2,1123.0zM417.7,1097.5L448.7,1097.5L433.2,1123.0zM424.8,1097.5L455.8,1097.5L440.3,1123.0zM431.8,1097.5L462.8,1097.5L447.3,1123.0zM438.8,1097.5L469.8,1097.5L454.3,1123.0zM445.9,1097.5L476.9,1097.5L461.4,1123.0zM452.9,1062.3L483.9,1062.3L468.4,1087.8zM459.9,1062.3L490.9,1062.3L475.4,1087.8zM467.0,1101.2L498.0,1101.2L482.5,1126.7zM474.0,1101.2L505.0,1101.2L489.5,1126.7zM481.0,1062.3L512.0,1062.3L496.5,1087.8zM488.0,1062.3L519.0,1062.3L503.5,1087.8zM495.1,1101.2L526.1,1101.2L510.6,1126.7zM502.1,1101.2L533.1,1101.2L517.6,1126.7zM509.1,1097.5L540.1,1097.5L524.6,1123.0zM516.2,1097.5L547.2,1097.5L531.7,1123.0zM523.2,1097.5L554.2,1097.5L538.7,1123.0zM530.2,1097.5L561.2,1097.5L545.7,1123.0zM537.3,1097.5L568.3,1097.5L552.8,1123.0zM544.3,1097.5L575.3,1097.5L559.8,1123.0zM551.3,1097.5L582.3,1097.5L566.8,1123.0zM558.4,1097.5L589.4,1097.5L573.9,1123.0zM565.4,1097.5L596.4,1097.5L580.9,1123.0zM572.4,1097.5L603.4,1097.5L587.9,1123.0zM579.5,1062.3L610.5,1062.3L595.0,1087.8zM586.5,1062.3L617.5,1062.3L602.0,1087.8zM593.5,1101.2L624.5,1101.2L609.0,1126.7zM600.6,1101.2L631.6,1101.2L616.1,1126.7zM607.6,1062.3L638.6,1062.3L623.1,1087.8zM614.6,1062.3L645.6,1062.3L630.1,1087.8zM621.7,1101.2L652.7,1101.2L637.2,1126.7zM628.7,1101.2L659.7,1101.2L644.2,1126.7zM635.7,1062.3L666.7,1062.3L651.2,1087.8zM642.8,1062.3L673.8,1062.3L658.3,1087.8zM649.8,1101.2L680.8,1101.2L665.3,1126.7zM656.8,1101.2L687.8,1101.2L672.3,1126.7zM663.9,1097.5L694.9,1097.5L679.4,1123.0zM670.9,1097.5L701.9,1097.5L686.4,1123.0zM677.9,1097.5L708.9,1097.5L693.4,1123.0zM685.0,1097.5L716.0,1097.5L700.5,1123.0zM692.0,1097.5L723.0,1097.5L707.5,1123.0zM699.0,1097.5L730.0,1097.5L714.5,1123.0zM706.1,1062.3L737.1,1062.3L721.6,1087.8zM713.1,1062.3L744.1,1062.3L728.6,1087.8zM720.1,1101.2L751.1,1101.2L735.6,1126.7zM727.2,1101.2L758.2,1101.2L742.7,1126.7zM734.2,1097.5L765.2,1097.5L749.7,1123.0zM741.2,1097.5L772.2,1097.5L756.7,1123.0zM748.3,1097.5L779.3,1097.5L763.8,1123.0zM755.3,1097.5L786.3,1097.5L770.8,1123.0zM762.3,1097.5L793.3,1097.5L777.8,1123.0zM769.4,1097.5L800.4,1097.5L784.9,1123.0zM776.4,1097.5L807.4,1097.5L791.9,1123.0zM783.4,1097.5L814.4,1097.5L798.9,1123.0zM790.5,1097.5L821.5,1097.5L806.0,1123.0zM797.5,1097.5L828.5,1097.5L813.0,1123.0zM804.5,1097.5L835.5,1097.5L820.0,1123.0zM811.6,1097.5L842.6,1097.5L827.1,1123.0zM818.6,1097.5L849.6,1097.5L834.1,1123.0zM825.6,1097.5L856.6,1097.5L841.1,1123.0zM832.7,1097.5L863.7,1097.5L848.2,1123.0zM839.7,1097.5L870.7,1097.5L855.2,1123.0zM846.7,1062.3L877.7,1062.3L862.2,1087.8zM853.8,1062.3L884.8,1062.3L869.3,1087.8zM860.8,1101.2L891.8,1101.2L876.3,1126.7zM867.8,1101.2L898.8,1101.2L883.3,1126.7zM874.9,1097.5L905.9,1097.5L890.4,1123.0zM881.9,1097.5L912.9,1097.5L897.4,1123.0zM888.9,1062.3L919.9,1062.3L904.4,1087.8zM896.0,1062.3L927.0,1062.3L911.5,1087.8zM903.0,1101.2L934.0,1101.2L918.5,1126.7zM910.0,1101.2L941.0,1101.2L925.5,1126.7zM917.1,1097.5L948.1,1097.5L932.6,1123.0zM924.1,1097.5L955.1,1097.5L939.6,1123.0zM931.1,1097.5L962.1,1097.5L946.6,1123.0zM938.2,1097.5L969.2,1097.5L953.7,1123.0zM945.2,1062.3L976.2,1062.3L960.7,1087.8zM952.2,1062.3L983.2,1062.3L967.7,1087.8zM959.3,1101.2L990.3,1101.2L974.8,1126.7zM966.3,1101.2L997.3,1101.2L981.8,1126.7zM973.3,1097.5L1004.3,1097.5L988.8,1123.0zM980.4,1097.5L1011.4,1097.5L995.9,1123.0zM987.4,1097.5L1018.4,1097.5L1002.9,1123.0zM994.4,1097.5L1025.4,1097.5L1009.9,1123.0zM1001.5,1097.5L1032.5,1097.5L1017.0,1123.0zM1008.5,1097.5L1039.5,1097.5L1024.0,1123.0zM1015.5,1062.3L1046.5,1062.3L1031.0,1087.8zM1022.6,1062.3L1053.6,1062.3L1038.1,1087.8zM1029.6,1101.2L1060.6,1101.2L1045.1,1126.7zM1036.6,1101.2L1067.6,1101.2L1052.1,1126.7zM1043.7,1097.5L1074.7,1097.5L1059.2,1123.0zM1050.7,1097.5L1081.7,1097.5L1066.2,1123.0zM1057.7,1097.5L1088.7,1097.5L1073.2,1123.0zM1064.8,1097.5L1095.8,1097.5L1080.3,1123.0zM1071.8,1062.3L1102.8,1062.3L1087.3,1087.8zM1078.8,1062.3L1109.8,1062.3L1094.3,1087.8zM1085.9,1101.2L1116.9,1101.2L1101.4,1126.7zM1092.9,1101.2L1123.9,1101.2L1108.4,1126.7zM1099.9,1097.5L1130.9,1097.5L1115.4,1123.0zM1107.0,1097.5L1138.0,1097.5L1122.5,1123.0zM1114.0,1097.5L1145.0,1097.5L1129.5,1123.0zM1121.0,1097.5L1152.0,1097.5L1136.5,1123.0zM1128.1,1062.3L1159.1,1062.3L1143.6,1087.8zM1135.1,1062.3L1166.1,1062.3L1150.6,1087.8zM1142.1,1101.2L1173.1,1101.2L1157.6,1126.7zM1149.2,1101.2L1180.2,1101.2L1164.7,1126.7zM1156.2,1097.5L1187.2,1097.5L1171.7,1123.0zM1163.2,1097.5L1194.2,1097.5L1178.7,1123.0zM1170.3,1097.5L1201.3,1097.5L1185.8,1123.0zM1177.3,1097.5L1208.3,1097.5L1192.8,1123.0zM1184.3,1097.5L1215.3,1097.5L1199.8,1123.0zM1191.4,1097.5L1222.4,1097.5L1206.9,1123.0zM1198.4,1097.5L1229.4,1097.5L1213.9,1123.0zM1205.4,1097.5L1236.4,1097.5L1220.9,1123.0zM1212.4,1097.5L1243.4,1097.5L1227.9,1123.0zM1219.5,1097.5L1250.5,1097.5L1235.0,1123.0zM1226.5,1062.3L1257.5,1062.3L1242.0,1087.8zM1233.5,1062.3L1264.5,1062.3L1249.0,1087.8zM1240.6,1101.2L1271.6,1101.2L1256.1,1126.7zM1247.6,1101.2L1278.6,1101.2L1263.1,1126.7zM1254.6,1062.3L1285.6,1062.3L1270.1,1087.8zM1261.7,1062.3L1292.7,1062.3L1277.2,1087.8zM1268.7,1101.2L1299.7,1101.2L1284.2,1126.7zM1275.7,1101.2L1306.7,1101.2L1291.2,1126.7zM1282.8,1097.5L1313.8,1097.5L1298.3,1123.0zM1289.8,1097.5L1320.8,1097.5L1305.3,1123.0zM1296.8,1097.5L1327.8,1097.5L1312.3,1123.0zM1303.9,1097.5L1334.9,1097.5L1319.4,1123.0zM1310.9,1062.3L1341.9,1062.3L1326.4,1087.8zM1317.9,1062.3L1348.9,1062.3L1333.4,1087.8zM1325.0,1101.2L1356.0,1101.2L1340.5,1126.7zM1332.0,1101.2L1363.0,1101.2L1347.5,1126.7zM1339.0,1097.5L1370.0,1097.5L1354.5,1123.0zM1346.1,1097.5L1377.1,1097.5L1361.6,1123.0zM1353.1,1062.3L1384.1,1062.3L1368.6,1087.8zM1360.1,1062.3L1391.1,1062.3L1375.6,1087.8zM1367.2,1101.2L1398.2,1101.2L1382.7,1126.7zM1374.2,1101.2L1405.2,1101.2L1389.7,1126.7zM1381.2,1097.5L1412.2,1097.5L1396.7,1123.0zM1388.3,1097.5L1419.3,1097.5L1403.8,1123.0zM1395.3,1097.5L1426.3,1097.5L1410.8,1123.0zM1402.3,1097.5L1433.3,1097.5L1417.8,1123.0zM1409.4,1097.5L1440.4,1097.5L1424.9,1123.0zM1416.4,1097.5L1447.4,1097.5L1431.9,1123.0zM1423.4,1097.5L1454.4,1097.5L1438.9,1123.0zM1430.5,1097.5L1461.5,1097.5L1446.0,1123.0zM1437.5,1097.5L1468.5,1097.5L1453.0,1123.0zM1444.5,1097.5L1475.5,1097.5L1460.0,1123.0zM1451.6,1097.5L1482.6,1097.5L1467.1,1123.0zM1458.6,1097.5L1489.6,1097.5L1474.1,1123.0zM1465.6,1097.5L1496.6,1097.5L1481.1,1123.0zM1472.7,1097.5L1503.7,1097.5L1488.2,1123.0zM1479.7,1097.5L1510.7,1097.5L1495.2,1123.0zM1486.7,1097.5L1517.7,1097.5L1502.2,1123.0zM1493.8,1097.5L1524.8,1097.5L1509.3,1123.0zM1500.8,1097.5L1531.8,1097.5L1516.3,1123.0zM1507.8,1097.5L1538.8,1097.5L1523.3,1123.0zM1514.9,1097.5L1545.9,1097.5L1530.4,1123.0zM1521.9,1097.5L1552.9,1097.5L1537.4,1123.0zM1528.9,1097.5L1559.9,1097.5L1544.4,1123.0zM1536.0,1097.5L1567.0,1097.5L1551.5,1123.0zM1543.0,1097.5L1574.0,1097.5L1558.5,1123.0z"/>
<path fill="#ffc0f4" fill-opacity="0.75" stroke="none" d="M158.9,1069.2L174.4,1096.2L143.4,1096.2zM166.0,1069.2L181.5,1096.2L150.5,1096.2zM173.0,1037.0L188.5,1064.0L157.5,1064.0zM180.0,1037.0L195.5,1064.0L164.5,1064.0zM187.1,1037.0L202.6,1064.0L171.6,1064.0zM194.1,1037.0L209.6,1064.0L178.6,1064.0zM201.1,1037.0L216.6,1064.0L185.6,1064.0zM208.2,1037.0L223.7,1064.0L192.7,1064.0zM215.2,1037.0L230.7,1064.0L199.7,1064.0zM222.2,1037.0L237.7,1064.0L206.7,1064.0zM229.3,1037.0L244.8,1064.0L213.8,1064.0zM236.3,1037.0L251.8,1064.0L220.8,1064.0zM243.3,1037.0L258.8,1064.0L227.8,1064.0zM250.4,1037.0L265.9,1064.0L234.9,1064.0zM257.4,1098.0L272.9,1125.0L241.9,1125.0zM264.4,1098.0L279.9,1125.0L248.9,1125.0zM271.5,1037.0L287.0,1064.0L256.0,1064.0zM278.5,1037.0L294.0,1064.0L263.0,1064.0zM285.5,1098.0L301.0,1125.0L270.0,1125.0zM292.6,1098.0L308.1,1125.0L277.1,1125.0zM299.6,1037.0L315.1,1064.0L284.1,1064.0zM306.6,1037.0L322.1,1064.0L291.1,1064.0zM313.7,1037.0L329.2,1064.0L298.2,1064.0zM320.7,1037.0L336.2,1064.0L305.2,1064.0zM327.7,1037.0L343.2,1064.0L312.2,1064.0zM334.8,1037.0L350.3,1064.0L319.3,1064.0zM341.8,1037.0L357.3,1064.0L326.3,1064.0zM348.8,1037.0L364.3,1064.0L333.3,1064.0zM355.9,1098.0L371.4,1125.0L340.4,1125.0zM362.9,1098.0L378.4,1125.0L347.4,1125.0zM369.9,1037.0L385.4,1064.0L354.4,1064.0zM377.0,1037.0L392.5,1064.0L361.5,1064.0zM384.0,1098.0L399.5,1125.0L368.5,1125.0zM391.0,1098.0L406.5,1125.0L375.5,1125.0zM398.1,1037.0L413.6,1064.0L382.6,1064.0zM405.1,1037.0L420.6,1064.0L389.6,1064.0zM412.1,1037.0L427.6,1064.0L396.6,1064.0zM419.2,1037.0L434.7,1064.0L403.7,1064.0zM426.2,1037.0L441.7,1064.0L410.7,1064.0zM433.2,1037.0L448.7,1064.0L417.7,1064.0zM440.3,1037.0L455.8,1064.0L424.8,1064.0zM447.3,1037.0L462.8,1064.0L431.8,1064.0zM454.3,1037.0L469.8,1064.0L438.8,1064.0zM461.4,1037.0L476.9,1064.0L445.9,1064.0zM468.4,1098.0L483.9,1125.0L452.9,1125.0zM475.4,1098.0L490.9,1125.0L459.9,1125.0zM482.5,1037.0L498.0,1064.0L467.0,1064.0zM489.5,1037.0L505.0,1064.0L474.0,1064.0zM496.5,1098.0L512.0,1125.0L481.0,1125.0zM503.5,1098.0L519.0,1125.0L488.0,1125.0zM510.6,1037.0L526.1,1064.0L495.1,1064.0zM517.6,1037.0L533.1,1064.0L502.1,1064.0zM524.6,1037.0L540.1,1064.0L509.1,1064.0zM531.7,1037.0L547.2,1064.0L516.2,1064.0zM538.7,1037.0L554.2,1064.0L523.2,1064.0zM545.7,1037.0L561.2,1064.0L530.2,1064.0zM552.8,1037.0L568.3,1064.0L537.3,1064.0zM559.8,1037.0L575.3,1064.0L544.3,1064.0zM566.8,1037.0L582.3,1064.0L551.3,1064.0zM573.9,1037.0L589.4,1064.0L558.4,1064.0zM580.9,1037.0L596.4,1064.0L565.4,1064.0zM587.9,1037.0L603.4,1064.0L572.4,1064.0zM595.0,1098.0L610.5,1125.0L579.5,1125.0zM602.0,1098.0L617.5,1125.0L586.5,1125.0zM609.0,1037.0L624.5,1064.0L593.5,1064.0zM616.1,1037.0L631.6,1064.0L600.6,1064.0zM623.1,1098.0L638.6,1125.0L607.6,1125.0zM630.1,1098.0L645.6,1125.0L614.6,1125.0zM637.2,1037.0L652.7,1064.0L621.7,1064.0zM644.2,1037.0L659.7,1064.0L628.7,1064.0zM651.2,1098.0L666.7,1125.0L635.7,1125.0zM658.3,1098.0L673.8,1125.0L642.8,1125.0zM665.3,1037.0L680.8,1064.0L649.8,1064.0zM672.3,1037.0L687.8,1064.0L656.8,1064.0zM679.4,1037.0L694.9,1064.0L663.9,1064.0zM686.4,1037.0L701.9,1064.0L670.9,1064.0zM693.4,1037.0L708.9,1064.0L677.9,1064.0zM700.5,1037.0L716.0,1064.0L685.0,1064.0zM707.5,1037.0L723.0,1064.0L692.0,1064.0zM714.5,1037.0L730.0,1064.0L699.0,1064.0zM721.6,1098.0L737.1,1125.0L706.1,1125.0zM728.6,1098.0L744.1,1125.0L713.1,1125.0zM735.6,1037.0L751.1,1064.0L720.1,1064.0zM742.7,1037.0L758.2,1064.0L727.2,1064.0zM749.7,1037.0L765.2,1064.0L734.2,1064.0zM756.7,1037.0L772.2,1064.0L741.2,1064.0zM763.8,1037.0L779.3,1064.0L748.3,1064.0zM770.8,1037.0L786.3,1064.0L755.3,1064.0zM777.8,1037.0L793.3,1064.0L762.3,1064.0zM784.9,1037.0L800.4,1064.0L769.4,1064.0zM791.9,1037.0L807.4,1064.0L776.4,1064.0zM798.9,1037.0L814.4,1064.0L783.4,1064.0zM806.0,1037.0L821.5,1064.0L790.5,1064.0zM813.0,1037.0L828.5,1064.0L797.5,1064.0zM820.0,1037.0L835.5,1064.0L804.5,1064.0zM827.1,1037.0L842.6,1064.0L811.6,1064.0zM834.1,1037.0L849.6,1064.0L818.6,1064.0zM841.1,1037.0L856.6,1064.0L825.6,1064.0zM848.2,1037.0L863.7,1064.0L832.7,1064.0zM855.2,1037.0L870.7,1064.0L839.7,1064.0zM862.2,1098.0L877.7,1125.0L846.7,1125.0zM869.3,1098.0L884.8,1125.0L853.8,1125.0zM876.3,1037.0L891.8,1064.0L860.8,1064.0zM883.3,1037.0L898.8,1064.0L867.8,1064.0zM890.4,1037.0L905.9,1064.0L874.9,1064.0zM897.4,1037.0L912.9,1064.0L881.9,1064.0zM904.4,1098.0L919.9,1125.0L888.9,1125.0zM911.5,1098.0L927.0,1125.0L896.0,1125.0zM918.5,1037.0L934.0,1064.0L903.0,1064.0zM925.5,1037.0L941.0,1064.0L910.0,1064.0zM932.6,1037.0L948.1,1064.0L917.1,1064.0zM939.6,1037.0L955.1,1064.0L924.1,1064.0zM946.6,1037.0L962.1,1064.0L931.1,1064.0zM953.7,1037.0L969.2,1064.0L938.2,1064.0zM960.7,1098.0L976.2,1125.0L945.2,1125.0zM967.7,1098.0L983.2,1125.0L952.2,1125.0zM974.8,1037.0L990.3,1064.0L959.3,1064.0zM981.8,1037.0L997.3,1064.0L966.3,1064.0zM988.8,1037.0L1004.3,1064.0L973.3,1064.0zM995.9,1037.0L1011.4,1064.0L980.4,1064.0zM1002.9,1037.0L1018.4,1064.0L987.4,1064.0zM1009.9,1037.0L1025.4,1064.0L994.4,1064.0zM1017.0,1037.0L1032.5,1064.0L1001.5,1064.0zM1024.0,1037.0L1039.5,1064.0L1008.5,1064.0zM1031.0,1098.0L1046.5,1125.0L1015.5,1125.0zM1038.1,1098.0L1053.6,1125.0L1022.6,1125.0zM1045.1,1037.0L1060.6,1064.0L1029.6,1064.0zM1052.1,1037.0L1067.6,1064.0L1036.6,1064.0zM1059.2,1037.0L1074.7,1064.0L1043.7,1064.0zM1066.2,1037.0L1081.7,1064.0L1050.7,1064.0zM1073.2,1037.0L1088.7,1064.0L1057.7,1064.0zM1080.3,1037.0L1095.8,1064.0L1064.8,1064.0zM1087.3,1098.0L1102.8,1125.0L1071.8,1125.0zM1094.3,1098.0L1109.8,1125.0L1078.8,1125.0zM1101.4,1037.0L1116.9,1064.0L1085.9,1064.0zM1108.4,1037.0L1123.9,1064.0L1092.9,1064.0zM1115.4,1037.0L1130.9,1064.0L1099.9,1064.0zM1122.5,1037.0L1138.0,1064.0L1107.0,1064.0zM1129.5,1037.0L1145.0,1064.0L1114.0,1064.0zM1136.5,1037.0L1152.0,1064.0L1121.0,1064.0zM1143.6,1098.0L1159.1,1125.0L1128.1,1125.0zM1150.6,1098.0L1166.1,1125.0L1135.1,1125.0zM1157.6,1037.0L1173.1,1064.0L1142.1,1064.0zM1164.7,1037.0L1180.2,1064.0L1149.2,1064.0zM1171.7,1037.0L1187.2,1064.0L1156.2,1064.0zM1178.7,1037.0L1194.2,1064.0L1163.2,1064.0zM1185.8,1037.0L1201.3,1064.0L1170.3,1064.0zM1192.8,1037.0L1208.3,1064.0L1177.3,1064.0zM1199.8,1037.0L1215.3,1064.0L1184.3,1064.0zM1206.9,1037.0L1222.4,1064.0L1191.4,1064.0zM1213.9,1037.0L1229.4,1064.0L1198.4,1064.0zM1220.9,1037.0L1236.4,1064.0L1205.4,1064.0zM1227.9,1037.0L1243.4,1064.0L1212.4,1064.0zM1235.0,1037.0L1250.5,1064.0L1219.5,1064.0zM1242.0,1098.0L1257.5,1125.0L1226.5,1125.0zM1249.0,1098.0L1264.5,1125.0L1233.5,1125.0zM1256.1,1037.0L1271.6,1064.0L1240.6,1064.0zM1263.1,1037.0L1278.6,1064.0L1247.6,1064.0zM1270.1,1098.0L1285.6,1125.0L1254.6,1125.0zM1277.2,1098.0L1292.7,1125.0L1261.7,1125.0zM1284.2,1037.0L1299.7,1064.0L1268.7,1064.0zM1291.2,1037.0L1306.7,1064.0L1275.7,1064.0zM1298.3,1037.0L1313.8,1064.0L1282.8,1064.0zM1305.3,1037.0L1320.8,1064.0L1289.8,1064.0zM1312.3,1037.0L1327.8,1064.0L1296.8,1064.0zM1319.4,1037.0L1334.9,1064.0L1303.9,1064.0zM1326.4,1098.0L1341.9,1125.0L1310.9,1125.0zM1333.4,1098.0L1348.9,1125.0L1317.9,1125.0zM1340.5,1037.0L1356.0,1064.0L1325.0,1064.0zM1347.5,1037.0L1363.0,1064.0L1332.0,1064.0zM1354.5,1037.0L1370.0,1064.0L1339.0,1064.0zM1361.6,1037.0L1377.1,1064.0L1346.1,1064.0zM1368.6,1098.0L1384.1,1125.0L1353.1,1125.0zM1375.6,1098.0L1391.1,1125.0L1360.1,1125.0zM1382.7,1037.0L1398.2,1064.0L1367.2,1064.0zM1389.7,1037.0L1405.2,1064.0L1374.2,1064.0zM1396.7,1037.0L1412.2,1064.0L1381.2,1064.0zM1403.8,1037.0L1419.3,1064.0L1388.3,1064.0zM1410.8,1037.0L1426.3,1064.0L1395.3,1064.0zM1417.8,1037.0L1433.3,1064.0L1402.3,1064.0zM1424.9,1037.0L1440.4,1064.0L1409.4,1064.0zM1431.9,1037.0L1447.4,1064.0L1416.4,1064.0zM1438.9,1037.0L1454.4,1064.0L1423.4,1064.0zM1446.0,1037.0L1461.5,1064.0L1430.5,1064.0zM1453.0,1037.0L1468.5,1064.0L1437.5,1064.0zM1460.0,1037.0L1475.5,1064.0L1444.5,1064.0zM1467.1,1037.0L1482.6,1064.0L1451.6,1064.0zM1474.1,1037.0L1489.6,1064.0L1458.6,1064.0zM1481.1,1037.0L1496.6,1064.0L1465.6,1064.0zM1488.2,1037.0L1503.7,1064.0L1472.7,1064.0zM1495.2,1037.0L1510.7,1064.0L1479.7,1064.0zM1502.2,1037.0L1517.7,1064.0L1486.7,1064.0zM1509.3,1037.0L1524.8,1064.0L1493.8,1064.0zM1516.3,1037.0L1531.8,1064.0L1500.8,1064.0zM1523.3,1037.0L1538.8,1064.0L1507.8,1064.0zM1530.4,1037.0L1545.9,1064.0L1514.9,1064.0zM1537.4,1037.0L1552.9,1064.0L1521.9,1064.0zM1544.4,1037.0L1559.9,1064.0L1528.9,1064.0zM1551.5,1037.0L1567.0,1064.0L1536.0,1064.0zM1558.5,1037.0L1574.0,1064.0L1543.0,1064.0z"/>
<polyline fill="none" stroke="#d030c8" stroke-width="2.6" stroke-linejoin="round" points="158.9,1088.2 166.0,1088.2 173.0,1056.0 180.0,1056.0 187.1,1056.0 194.1,1056.0 201.1,1056.0 208.2,1056.0 215.2,1056.0 222.2,1056.0 229.3,1056.0 236.3,1056.0 243.3,1056.0 250.4,1056.0 257.4,1117.0 264.4,1117.0 271.5,1056.0 278.5,1056.0 285.5,1117.0 292.6,1117.0 299.6,1056.0 306.6,1056.0 313.7,1056.0 320.7,1056.0 327.7,1056.0 334.8,1056.0 341.8,1056.0 348.8,1056.0 355.9,1117.0 362.9,1117.0 369.9,1056.0 377.0,1056.0 384.0,1117.0 391.0,1117.0 398.1,1056.0 405.1,1056.0 412.1,1056.0 419.2,1056.0 426.2,1056.0 433.2,1056.0 440.3,1056.0 447.3,1056.0 454.3,1056.0 461.4,1056.0 468.4,1117.0 475.4,1117.0 482.5,1056.0 489.5,1056.0 496.5,1117.0 503.5,1117.0 510.6,1056.0 517.6,1056.0 524.6,1056.0 531.7,1056.0 538.7,1056.0 545.7,1056.0 552.8,1056.0 559.8,1056.0 566.8,1056.0 573.9,1056.0 580.9,1056.0 587.9,1056.0 595.0,1117.0 602.0,1117.0 609.0,1056.0 616.1,1056.0 623.1,1117.0 630.1,1117.0 637.2,1056.0 644.2,1056.0 651.2,1117.0 658.3,1117.0 665.3,1056.0 672.3,1056.0 679.4,1056.0 686.4,1056.0 693.4,1056.0 700.5,1056.0 707.5,1056.0 714.5,1056.0 721.6,1117.0 728.6,1117.0 735.6,1056.0 742.7,1056.0 749.7,1056.0 756.7,1056.0 763.8,1056.0 770.8,1056.0 777.8,1056.0 784.9,1056.0 791.9,1056.0 798.9,1056.0 806.0,1056.0 813.0,1056.0 820.0,1056.0 827.1,1056.0 834.1,1056.0 841.1,1056.0 848.2,1056.0 855.2,1056.0 862.2,1117.0 869.3,1117.0 876.3,1056.0 883.3,1056.0 890.4,1056.0 897.4,1056.0 904.4,1117.0 911.5,1117.0 918.5,1056.0 925.5,1056.0 932.6,1056.0 939.6,1056.0 946.6,1056.0 953.7,1056.0 960.7,1117.0 967.7,1117.0 974.8,1056.0 981.8,1056.0 988.8,1056.0 995.9,1056.0 1002.9,1056.0 1009.9,1056.0 1017.0,1056.0 1024.0,1056.0 1031.0,1117.0 1038.1,1117.0 1045.1,1056.0 1052.1,1056.0 1059.2,1056.0 1066.2,1056.0 1073.2,1056.0 1080.3,1056.0 1087.3,1117.0 1094.3,1117.0 1101.4,1056.0 1108.4,1056.0 1115.4,1056.0 1122.5,1056.0 1129.5,1056.0 1136.5,1056.0 1143.6,1117.0 1150.6,1117.0 1157.6,1056.0 1164.7,1056.0 1171.7,1056.0 1178.7,1056.0 1185.8,1056.0 1192.8,1056.0 1199.8,1056.0 1206.9,1056.0 1213.9,1056.0 1220.9,1056.0 1227.9,1056.0 1235.0,1056.0 1242.0,1117.0 1249.0,1117.0 1256.1,1056.0 1263.1,1056.0 1270.1,1117.0 1277.2,1117.0 1284.2,1056.0 1291.2,1056.0 1298.3,1056.0 1305.3,1056.0 1312.3,1056.0 1319.4,1056.0 1326.4,1117.0 1333.4,1117.0 1340.5,1056.0 1347.5,1056.0 1354.5,1056.0 1361.6,1056.0 1368.6,1117.0 1375.6,1117.0 1382.7,1056.0 1389.7,1056.0 1396.7,1056.0 1403.8,1056.0 1410.8,1056.0 1417.8,1056.0 1424.9,1056.0 1431.9,1056.0 1438.9,1056.0 1446.0,1056.0 1453.0,1056.0 1460.0,1056.0 1467.1,1056.0 1474.1,1056.0 1481.1,1056.0 1488.2,1056.0 1495.2,1056.0 1502.2,1056.0 1509.3,1056.0 1516.3,1056.0 1523.3,1056.0 1530.4,1056.0 1537.4,1056.0 1544.4,1056.0 1551.5,1056.0 1558.5,1056.0"/>
<path fill="none" stroke="#ff18f0" stroke-width="3.1" d="M158.9,1069.2L174.4,1096.2L143.4,1096.2zM166.0,1069.2L181.5,1096.2L150.5,1096.2zM173.0,1037.0L188.5,1064.0L157.5,1064.0zM180.0,1037.0L195.5,1064.0L164.5,1064.0zM187.1,1037.0L202.6,1064.0L171.6,1064.0zM194.1,1037.0L209.6,1064.0L178.6,1064.0zM201.1,1037.0L216.6,1064.0L185.6,1064.0zM208.2,1037.0L223.7,1064.0L192.7,1064.0zM215.2,1037.0L230.7,1064.0L199.7,1064.0zM222.2,1037.0L237.7,1064.0L206.7,1064.0zM229.3,1037.0L244.8,1064.0L213.8,1064.0zM236.3,1037.0L251.8,1064.0L220.8,1064.0zM243.3,1037.0L258.8,1064.0L227.8,1064.0zM250.4,1037.0L265.9,1064.0L234.9,1064.0zM257.4,1098.0L272.9,1125.0L241.9,1125.0zM264.4,1098.0L279.9,1125.0L248.9,1125.0zM271.5,1037.0L287.0,1064.0L256.0,1064.0zM278.5,1037.0L294.0,1064.0L263.0,1064.0zM285.5,1098.0L301.0,1125.0L270.0,1125.0zM292.6,1098.0L308.1,1125.0L277.1,1125.0zM299.6,1037.0L315.1,1064.0L284.1,1064.0zM306.6,1037.0L322.1,1064.0L291.1,1064.0zM313.7,1037.0L329.2,1064.0L298.2,1064.0zM320.7,1037.0L336.2,1064.0L305.2,1064.0zM327.7,1037.0L343.2,1064.0L312.2,1064.0zM334.8,1037.0L350.3,1064.0L319.3,1064.0zM341.8,1037.0L357.3,1064.0L326.3,1064.0zM348.8,1037.0L364.3,1064.0L333.3,1064.0zM355.9,1098.0L371.4,1125.0L340.4,1125.0zM362.9,1098.0L378.4,1125.0L347.4,1125.0zM369.9,1037.0L385.4,1064.0L354.4,1064.0zM377.0,1037.0L392.5,1064.0L361.5,1064.0zM384.0,1098.0L399.5,1125.0L368.5,1125.0zM391.0,1098.0L406.5,1125.0L375.5,1125.0zM398.1,1037.0L413.6,1064.0L382.6,1064.0zM405.1,1037.0L420.6,1064.0L389.6,1064.0zM412.1,1037.0L427.6,1064.0L396.6,1064.0zM419.2,1037.0L434.7,1064.0L403.7,1064.0zM426.2,1037.0L441.7,1064.0L410.7,1064.0zM433.2,1037.0L448.7,1064.0L417.7,1064.0zM440.3,1037.0L455.8,1064.0L424.8,1064.0zM447.3,1037.0L462.8,1064.0L431.8,1064.0zM454.3,1037.0L469.8,1064.0L438.8,1064.0zM461.4,1037.0L476.9,1064.0L445.9,1064.0zM468.4,1098.0L483.9,1125.0L452.9,1125.0zM475.4,1098.0L490.9,1125.0L459.9,1125.0zM482.5,1037.0L498.0,1064.0L467.0,1064.0zM489.5,1037.0L505.0,1064.0L474.0,1064.0zM496.5,1098.0L512.0,1125.0L481.0,1125.0zM503.5,1098.0L519.0,1125.0L488.0,1125.0zM510.6,1037.0L526.1,1064.0L495.1,1064.0zM517.6,1037.0L533.1,1064.0L502.1,1064.0zM524.6,1037.0L540.1,1064.0L509.1,1064.0zM531.7,1037.0L547.2,1064.0L516.2,1064.0zM538.7,1037.0L554.2,1064.0L523.2,1064.0zM545.7,1037.0L561.2,1064.0L530.2,1064.0zM552.8,1037.0L568.3,1064.0L537.3,1064.0zM559.8,1037.0L575.3,1064.0L544.3,1064.0zM566.8,1037.0L582.3,1064.0L551.3,1064.0zM573.9,1037.0L589.4,1064.0L558.4,1064.0zM580.9,1037.0L596.4,1064.0L565.4,1064.0zM587.9,1037.0L603.4,1064.0L572.4,1064.0zM595.0,1098.0L610.5,1125.0L579.5,1125.0zM602.0,1098.0L617.5,1125.0L586.5,1125.0zM609.0,1037.0L624.5,1064.0L593.5,1064.0zM616.1,1037.0L631.6,1064.0L600.6,1064.0zM623.1,1098.0L638.6,1125.0L607.6,1125.0zM630.1,1098.0L645.6,1125.0L614.6,1125.0zM637.2,1037.0L652.7,1064.0L621.7,1064.0zM644.2,1037.0L659.7,1064.0L628.7,1064.0zM651.2,1098.0L666.7,1125.0L635.7,1125.0zM658.3,1098.0L673.8,1125.0L642.8,1125.0zM665.3,1037.0L680.8,1064.0L649.8,1064.0zM672.3,1037.0L687.8,1064.0L656.8,1064.0zM679.4,1037.0L694.9,1064.0L663.9,1064.0zM686.4,1037.0L701.9,1064.0L670.9,1064.0zM693.4,1037.0L708.9,1064.0L677.9,1064.0zM700.5,1037.0L716.0,1064.0L685.0,1064.0zM707.5,1037.0L723.0,1064.0L692.0,1064.0zM714.5,1037.0L730.0,1064.0L699.0,1064.0zM721.6,1098.0L737.1,1125.0L706.1,1125.0zM728.6,1098.0L744.1,1125.0L713.1,1125.0zM735.6,1037.0L751.1,1064.0L720.1,1064.0zM742.7,1037.0L758.2,1064.0L727.2,1064.0zM749.7,1037.0L765.2,1064.0L734.2,1064.0zM756.7,1037.0L772.2,1064.0L741.2,1064.0zM763.8,1037.0L779.3,1064.0L748.3,1064.0zM770.8,1037.0L786.3,1064.0L755.3,1064.0zM777.8,1037.0L793.3,1064.0L762.3,1064.0zM784.9,1037.0L800.4,1064.0L769.4,1064.0zM791.9,1037.0L807.4,1064.0L776.4,1064.0zM798.9,1037.0L814.4,1064.0L783.4,1064.0zM806.0,1037.0L821.5,1064.0L790.5,1064.0zM813.0,1037.0L828.5,1064.0L797.5,1064.0zM820.0,1037.0L835.5,1064.0L804.5,1064.0zM827.1,1037.0L842.6,1064.0L811.6,1064.0zM834.1,1037.0L849.6,1064.0L818.6,1064.0zM841.1,1037.0L856.6,1064.0L825.6,1064.0zM848.2,1037.0L863.7,1064.0L832.7,1064.0zM855.2,1037.0L870.7,1064.0L839.7,1064.0zM862.2,1098.0L877.7,1125.0L846.7,1125.0zM869.3,1098.0L884.8,1125.0L853.8,1125.0zM876.3,1037.0L891.8,1064.0L860.8,1064.0zM883.3,1037.0L898.8,1064.0L867.8,1064.0zM890.4,1037.0L905.9,1064.0L874.9,1064.0zM897.4,1037.0L912.9,1064.0L881.9,1064.0zM904.4,1098.0L919.9,1125.0L888.9,1125.0zM911.5,1098.0L927.0,1125.0L896.0,1125.0zM918.5,1037.0L934.0,1064.0L903.0,1064.0zM925.5,1037.0L941.0,1064.0L910.0,1064.0zM932.6,1037.0L948.1,1064.0L917.1,1064.0zM939.6,1037.0L955.1,1064.0L924.1,1064.0zM946.6,1037.0L962.1,1064.0L931.1,1064.0zM953.7,1037.0L969.2,1064.0L938.2,1064.0zM960.7,1098.0L976.2,1125.0L945.2,1125.0zM967.7,1098.0L983.2,1125.0L952.2,1125.0zM974.8,1037.0L990.3,1064.0L959.3,1064.0zM981.8,1037.0L997.3,1064.0L966.3,1064.0zM988.8,1037.0L1004.3,1064.0L973.3,1064.0zM995.9,1037.0L1011.4,1064.0L980.4,1064.0zM1002.9,1037.0L1018.4,1064.0L987.4,1064.0zM1009.9,1037.0L1025.4,1064.0L994.4,1064.0zM1017.0,1037.0L1032.5,1064.0L1001.5,1064.0zM1024.0,1037.0L1039.5,1064.0L1008.5,1064.0zM1031.0,1098.0L1046.5,1125.0L1015.5,1125.0zM1038.1,1098.0L1053.6,1125.0L1022.6,1125.0zM1045.1,1037.0L1060.6,1064.0L1029.6,1064.0zM1052.1,1037.0L1067.6,1064.0L1036.6,1064.0zM1059.2,1037.0L1074.7,1064.0L1043.7,1064.0zM1066.2,1037.0L1081.7,1064.0L1050.7,1064.0zM1073.2,1037.0L1088.7,1064.0L1057.7,1064.0zM1080.3,1037.0L1095.8,1064.0L1064.8,1064.0zM1087.3,1098.0L1102.8,1125.0L1071.8,1125.0zM1094.3,1098.0L1109.8,1125.0L1078.8,1125.0zM1101.4,1037.0L1116.9,1064.0L1085.9,1064.0zM1108.4,1037.0L1123.9,1064.0L1092.9,1064.0zM1115.4,1037.0L1130.9,1064.0L1099.9,1064.0zM1122.5,1037.0L1138.0,1064.0L1107.0,1064.0zM1129.5,1037.0L1145.0,1064.0L1114.0,1064.0zM1136.5,1037.0L1152.0,1064.0L1121.0,1064.0zM1143.6,1098.0L1159.1,1125.0L1128.1,1125.0zM1150.6,1098.0L1166.1,1125.0L1135.1,1125.0zM1157.6,1037.0L1173.1,1064.0L1142.1,1064.0zM1164.7,1037.0L1180.2,1064.0L1149.2,1064.0zM1171.7,1037.0L1187.2,1064.0L1156.2,1064.0zM1178.7,1037.0L1194.2,1064.0L1163.2,1064.0zM1185.8,1037.0L1201.3,1064.0L1170.3,1064.0zM1192.8,1037.0L1208.3,1064.0L1177.3,1064.0zM1199.8,1037.0L1215.3,1064.0L1184.3,1064.0zM1206.9,1037.0L1222.4,1064.0L1191.4,1064.0zM1213.9,1037.0L1229.4,1064.0L1198.4,1064.0zM1220.9,1037.0L1236.4,1064.0L1205.4,1064.0zM1227.9,1037.0L1243.4,1064.0L1212.4,1064.0zM1235.0,1037.0L1250.5,1064.0L1219.5,1064.0zM1242.0,1098.0L1257.5,1125.0L1226.5,1125.0zM1249.0,1098.0L1264.5,1125.0L1233.5,1125.0zM1256.1,1037.0L1271.6,1064.0L1240.6,1064.0zM1263.1,1037.0L1278.6,1064.0L1247.6,1064.0zM1270.1,1098.0L1285.6,1125.0L1254.6,1125.0zM1277.2,1098.0L1292.7,1125.0L1261.7,1125.0zM1284.2,1037.0L1299.7,1064.0L1268.7,1064.0zM1291.2,1037.0L1306.7,1064.0L1275.7,1064.0zM1298.3,1037.0L1313.8,1064.0L1282.8,1064.0zM1305.3,1037.0L1320.8,1064.0L1289.8,1064.0zM1312.3,1037.0L1327.8,1064.0L1296.8,1064.0zM1319.4,1037.0L1334.9,1064.0L1303.9,1064.0zM1326.4,1098.0L1341.9,1125.0L1310.9,1125.0zM1333.4,1098.0L1348.9,1125.0L1317.9,1125.0zM1340.5,1037.0L1356.0,1064.0L1325.0,1064.0zM1347.5,1037.0L1363.0,1064.0L1332.0,1064.0zM1354.5,1037.0L1370.0,1064.0L1339.0,1064.0zM1361.6,1037.0L1377.1,1064.0L1346.1,1064.0zM1368.6,1098.0L1384.1,1125.0L1353.1,1125.0zM1375.6,1098.0L1391.1,1125.0L1360.1,1125.0zM1382.7,1037.0L1398.2,1064.0L1367.2,1064.0zM1389.7,1037.0L1405.2,1064.0L1374.2,1064.0zM1396.7,1037.0L1412.2,1064.0L1381.2,1064.0zM1403.8,1037.0L1419.3,1064.0L1388.3,1064.0zM1410.8,1037.0L1426.3,1064.0L1395.3,1064.0zM1417.8,1037.0L1433.3,1064.0L1402.3,1064.0zM1424.9,1037.0L1440.4,1064.0L1409.4,1064.0zM1431.9,1037.0L1447.4,1064.0L1416.4,1064.0zM1438.9,1037.0L1454.4,1064.0L1423.4,1064.0zM1446.0,1037.0L1461.5,1064.0L1430.5,1064.0zM1453.0,1037.0L1468.5,1064.0L1437.5,1064.0zM1460.0,1037.0L1475.5,1064.0L1444.5,1064.0zM1467.1,1037.0L1482.6,1064.0L1451.6,1064.0zM1474.1,1037.0L1489.6,1064.0L1458.6,1064.0zM1481.1,1037.0L1496.6,1064.0L1465.6,1064.0zM1488.2,1037.0L1503.7,1064.0L1472.7,1064.0zM1495.2,1037.0L1510.7,1064.0L1479.7,1064.0zM1502.2,1037.0L1517.7,1064.0L1486.7,1064.0zM1509.3,1037.0L1524.8,1064.0L1493.8,1064.0zM1516.3,1037.0L1531.8,1064.0L1500.8,1064.0zM1523.3,1037.0L1538.8,1064.0L1507.8,1064.0zM1530.4,1037.0L1545.9,1064.0L1514.9,1064.0zM1537.4,1037.0L1552.9,1064.0L1521.9,1064.0zM1544.4,1037.0L1559.9,1064.0L1528.9,1064.0zM1551.5,1037.0L1567.0,1064.0L1536.0,1064.0zM1558.5,1037.0L1574.0,1064.0L1543.0,1064.0z"/>
<line x1="152" y1="744.4" x2="1403" y2="744.4" stroke="#111" stroke-width="3"/>
<line x1="1403" y1="744.4" x2="1553" y2="744.4" stroke="#777" stroke-width="3"/>
<g stroke="#000" stroke-width="3.0" fill="none" stroke-linecap="square">
<rect x="151.9" y="37.0" width="1406.6" height="1110.0"/>
<line x1="151.9" y1="1147.0" x2="151.9" y2="1136.0"/>
<line x1="151.9" y1="37.0" x2="151.9" y2="48.0"/>
<line x1="292.6" y1="1147.0" x2="292.6" y2="1136.0"/>
<line x1="292.6" y1="37.0" x2="292.6" y2="48.0"/>
<line x1="433.2" y1="1147.0" x2="433.2" y2="1136.0"/>
<line x1="433.2" y1="37.0" x2="433.2" y2="48.0"/>
<line x1="573.9" y1="1147.0" x2="573.9" y2="1136.0"/>
<line x1="573.9" y1="37.0" x2="573.9" y2="48.0"/>
<line x1="714.5" y1="1147.0" x2="714.5" y2="1136.0"/>
<line x1="714.5" y1="37.0" x2="714.5" y2="48.0"/>
<line x1="855.2" y1="1147.0" x2="855.2" y2="1136.0"/>
<line x1="855.2" y1="37.0" x2="855.2" y2="48.0"/>
<line x1="995.9" y1="1147.0" x2="995.9" y2="1136.0"/>
<line x1="995.9" y1="37.0" x2="995.9" y2="48.0"/>
<line x1="1136.5" y1="1147.0" x2="1136.5" y2="1136.0"/>
<line x1="1136.5" y1="37.0" x2="1136.5" y2="48.0"/>
<line x1="1277.2" y1="1147.0" x2="1277.2" y2="1136.0"/>
<line x1="1277.2" y1="37.0" x2="1277.2" y2="48.0"/>
<line x1="1417.8" y1="1147.0" x2="1417.8" y2="1136.0"/>
<line x1="1417.8" y1="37.0" x2="1417.8" y2="48.0"/>
<line x1="1558.5" y1="1147.0" x2="1558.5" y2="1136.0"/>
<line x1="1558.5" y1="37.0" x2="1558.5" y2="48.0"/>
<line x1="151.9" y1="1147.0" x2="162.9" y2="1147.0"/>
<line x1="1558.5" y1="1147.0" x2="1547.5" y2="1147.0"/>
<line x1="151.9" y1="1036.0" x2="162.9" y2="1036.0"/>
<line x1="1558.5" y1="1036.0" x2="1547.5" y2="1036.0"/>
<line x1="151.9" y1="925.0" x2="162.9" y2="925.0"/>
<line x1="1558.5" y1="925.0" x2="1547.5" y2="925.0"/>
<line x1="151.9" y1="814.0" x2="162.9" y2="814.0"/>
<line x1="1558.5" y1="814.0" x2="1547.5" y2="814.0"/>
<line x1="151.9" y1="703.0" x2="162.9" y2="703.0"/>
<line x1="1558.5" y1="703.0" x2="1547.5" y2="703.0"/>
<line x1="151.9" y1="592.0" x2="162.9" y2="592.0"/>
<line x1="1558.5" y1="592.0" x2="1547.5" y2="592.0"/>
<line x1="151.9" y1="481.0" x2="162.9" y2="481.0"/>
<line x1="1558.5" y1="481.0" x2="1547.5" y2="481.0"/>
<line x1="151.9" y1="370.0" x2="162.9" y2="370.0"/>
<line x1="1558.5" y1="370.0" x2="1547.5" y2="370.0"/>
<line x1="151.9" y1="259.0" x2="162.9" y2="259.0"/>
<line x1="1558.5" y1="259.0" x2="1547.5" y2="259.0"/>
<line x1="151.9" y1="148.0" x2="162.9" y2="148.0"/>
<line x1="1558.5" y1="148.0" x2="1547.5" y2="148.0"/>
<line x1="151.9" y1="37.0" x2="162.9" y2="37.0"/>
<line x1="1558.5" y1="37.0" x2="1547.5" y2="37.0"/>
</g>
<g fill="#303030" font-size="43.0">
<text transform="translate(151.9,1209.8) scale(1,1.000)" text-anchor="middle">0</text>
<text transform="translate(292.6,1209.8) scale(1,1.000)" text-anchor="middle">20</text>
<text transform="translate(433.2,1209.8) scale(1,1.000)" text-anchor="middle">40</text>
<text transform="translate(573.9,1209.8) scale(1,1.000)" text-anchor="middle">60</text>
<text transform="translate(714.5,1209.8) scale(1,1.000)" text-anchor="middle">80</text>
<text transform="translate(855.2,1209.8) scale(1,1.000)" text-anchor="middle">100</text>
<text transform="translate(995.9,1209.8) scale(1,1.000)" text-anchor="middle">120</text>
<text transform="translate(1136.5,1209.8) scale(1,1.000)" text-anchor="middle">140</text>
<text transform="translate(1277.2,1209.8) scale(1,1.000)" text-anchor="middle">160</text>
<text transform="translate(1417.8,1209.8) scale(1,1.000)" text-anchor="middle">180</text>
<text transform="translate(1558.5,1209.8) scale(1,1.000)" text-anchor="middle">200</text>
<text transform="translate(132.5,1164.8) scale(1,1.000)" text-anchor="end">0</text>
<text transform="translate(132.5,1053.8) scale(1,1.000)" text-anchor="end">0.1</text>
<text transform="translate(132.5,942.8) scale(1,1.000)" text-anchor="end">0.2</text>
<text transform="translate(132.5,831.8) scale(1,1.000)" text-anchor="end">0.3</text>
<text transform="translate(132.5,720.8) scale(1,1.000)" text-anchor="end">0.4</text>
<text transform="translate(132.5,609.8) scale(1,1.000)" text-anchor="end">0.5</text>
<text transform="translate(132.5,498.8) scale(1,1.000)" text-anchor="end">0.6</text>
<text transform="translate(132.5,387.8) scale(1,1.000)" text-anchor="end">0.7</text>
<text transform="translate(132.5,276.8) scale(1,1.000)" text-anchor="end">0.8</text>
<text transform="translate(132.5,165.8) scale(1,1.000)" text-anchor="end">0.9</text>
<text transform="translate(132.5,54.8) scale(1,1.000)" text-anchor="end">1</text>
</g>
<text x="853.7" y="1274.8" text-anchor="middle" font-size="47.5" fill="#303030">time step</text>
<text transform="translate(45.9,591) rotate(-90)" text-anchor="middle" font-size="47.6" fill="#303030">mass value m(.)</text>
<rect x="1074.3" y="73.0" width="449.1" height="327.6" fill="#fff" stroke="#000" stroke-width="2.8"/>
<line x1="1085.8" y1="101.8" x2="1215" y2="101.8" stroke="#000" stroke-width="3.0"/>
<path fill="none" stroke="#000" stroke-width="3.0" d="M1141.5,91.8h20.0v20.0h-20.0z"/>
<text x="1225" y="119.6" font-size="38.6" fill="#000" word-spacing="2">Unknown</text>
<line x1="1085.8" y1="157.5" x2="1215" y2="157.5" stroke="#000078" stroke-width="3.0"/>
<path fill="none" stroke="#0000b0" stroke-width="3.0" d="M1137.0,157.5h29.0M1151.5,143.0v29.0"/>
<text x="1225" y="171.3" font-size="38.6" fill="#000" word-spacing="2">Friend</text>
<line x1="1085.8" y1="209.3" x2="1215" y2="209.3" stroke="#00b04c" stroke-width="3.0"/>
<text x="1225" y="226.5" font-size="38.6" fill="#000" word-spacing="2">Neutral</text>
<line x1="1085.8" y1="263.9" x2="1215" y2="263.9" stroke="#b01818" stroke-width="3.0"/>
<path fill="none" stroke="#e02030" stroke-width="3.0" d="M1139.0,263.9a12.5,12.5 0 1,0 25.0,0a12.5,12.5 0 1,0 -25.0,0"/>
<text x="1225" y="278.2" font-size="38.6" fill="#000" word-spacing="2">Hostile</text>
<line x1="1085.8" y1="315.0" x2="1215" y2="315.0" stroke="#e8e860" stroke-width="3.0"/>
<path fill="none" stroke="#f8f800" stroke-width="3.0" d="M1135.5,304.0L1167.5,304.0L1151.5,331.0z"/>
<text x="1225" y="333.7" font-size="38.6" fill="#000" word-spacing="2">Assumed Friend</text>
<line x1="1085.8" y1="371.0" x2="1215" y2="371.0" stroke="#b02898" stroke-width="3.0"/>
<path fill="none" stroke="#f020e0" stroke-width="3.0" d="M1151.5,351.0L1167.5,377.5L1135.5,377.5z"/>
<text x="1225" y="384.5" font-size="38.6" fill="#000" word-spacing="2">Suspect</text>
</svg></body></html>
